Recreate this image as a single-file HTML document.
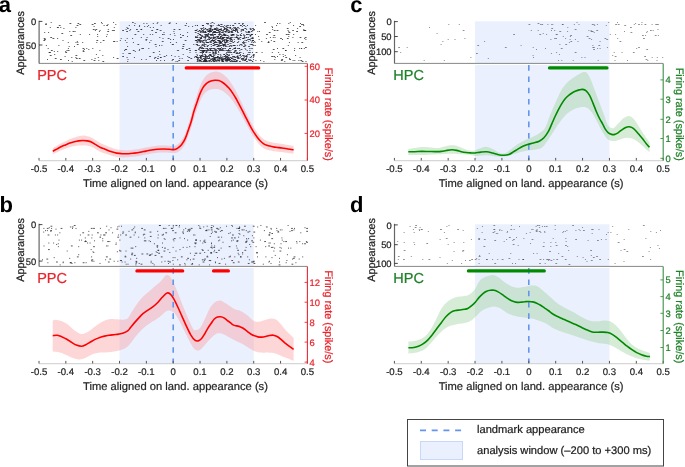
<!DOCTYPE html>
<html><head><meta charset="utf-8"><style>
html,body{margin:0;padding:0;background:#fff;}
svg{display:block;font-family:"Liberation Sans", sans-serif;text-rendering:geometricPrecision;will-change:transform;}
</style></head><body>
<svg width="685" height="467" viewBox="0 0 685 467">
<rect width="685" height="467" fill="#fff"/>
<rect x="119.52" y="21.30" width="134.20" height="42.10" fill="#eaf0fd"/>
<rect x="119.52" y="65.00" width="134.20" height="95.50" fill="#eaf0fd"/>
<path d="M157.3 22.50h1.0M132.3 22.50h1.0M132.5 22.50h1.0M50.7 22.50h1.0M211.5 22.50h1.8M101.0 22.50h1.0M289.8 22.50h1.0M169.5 22.50h1.0M264.1 22.50h1.8M113.1 22.50h1.0M213.7 23.50h1.0M186.0 23.50h1.0M210.4 23.50h1.0M94.0 23.50h1.8M168.6 23.50h1.8M279.4 23.50h1.0M242.0 23.50h1.8M156.7 23.50h1.0M175.9 23.50h1.0M288.3 23.50h1.0M238.3 23.50h1.8M45.6 23.50h1.0M101.7 23.50h1.0M206.0 23.50h1.8M78.2 23.50h1.0M77.5 23.50h1.0M69.5 23.50h1.8M152.8 23.50h1.0M277.0 23.50h1.0M234.3 23.50h1.8M143.4 23.50h1.0M207.5 23.50h1.0M207.8 23.50h1.0M300.0 23.50h1.0M134.6 23.50h1.0M146.4 23.50h1.0M115.3 24.50h1.0M79.4 24.50h1.8M45.1 24.50h1.8M107.5 24.50h1.0M302.9 24.50h1.0M220.5 24.50h1.0M242.1 24.50h1.0M220.7 24.50h1.8M91.7 24.50h1.8M207.5 24.50h1.0M301.1 24.50h1.8M218.2 24.50h1.0M209.7 25.50h1.0M224.2 25.50h1.0M218.1 25.50h1.0M255.1 25.50h1.0M106.2 25.50h1.8M228.2 25.50h1.0M202.1 25.50h1.8M216.7 25.50h1.0M226.4 25.50h1.8M230.0 25.50h1.0M210.2 25.50h1.8M201.9 25.50h1.0M239.9 25.50h1.0M160.6 25.50h1.0M243.2 25.50h1.8M218.7 25.50h1.0M58.8 25.50h1.8M240.1 25.50h1.8M184.7 25.50h1.8M76.6 25.50h1.8M103.6 25.50h1.0M202.4 25.50h1.0M212.6 25.50h1.0M276.1 25.50h1.0M196.8 25.50h1.0M232.4 25.50h1.8M247.0 25.50h1.0M139.1 25.50h1.0M232.5 25.50h1.0M194.9 25.50h1.0M293.1 25.50h1.0M202.8 25.50h1.0M197.0 25.50h1.0M134.1 25.50h1.0M128.8 25.50h1.0M303.2 25.50h1.0M218.9 25.50h1.0M148.1 25.50h1.0M299.2 26.50h1.8M271.5 26.50h1.0M192.1 26.50h1.0M138.9 26.50h1.0M241.9 26.50h1.0M146.9 26.50h1.0M245.3 26.50h1.0M93.6 26.50h1.0M188.2 26.50h1.0M210.4 26.50h1.8M219.9 26.50h1.0M222.9 26.50h1.0M225.5 26.50h1.8M144.2 26.50h1.0M210.8 26.50h1.0M221.0 26.50h1.8M236.9 27.50h1.0M203.2 27.50h1.0M226.5 27.50h1.8M126.5 27.50h1.0M152.9 27.50h1.0M227.6 27.50h1.0M75.4 27.50h1.0M210.5 27.50h1.0M233.2 27.50h1.0M237.8 27.50h1.0M49.8 27.50h1.0M229.3 27.50h1.8M60.3 27.50h1.0M149.8 27.50h1.0M57.5 27.50h1.0M223.3 27.50h1.8M234.2 27.50h1.8M113.8 27.50h1.0M216.3 27.50h1.0M56.9 27.50h1.8M272.0 27.50h1.0M229.7 27.50h1.0M224.3 28.50h1.8M216.6 28.50h1.0M232.3 28.50h1.0M63.4 28.50h1.0M245.4 28.50h1.0M204.9 28.50h1.0M209.8 28.50h1.0M205.1 28.50h1.0M297.1 28.50h1.0M244.8 28.50h1.0M238.6 28.50h1.0M201.7 28.50h1.8M209.5 28.50h1.8M214.9 28.50h1.8M213.9 28.50h1.8M127.0 28.50h1.8M208.6 28.50h1.0M217.4 28.50h1.0M225.5 28.50h1.8M250.4 28.50h1.0M235.2 28.50h1.0M252.1 28.50h1.8M200.5 28.50h1.0M200.7 28.50h1.0M229.5 28.50h1.8M286.8 28.50h1.8M220.7 28.50h1.0M210.3 28.50h1.0M244.4 28.50h1.0M204.8 28.50h1.0M234.2 28.50h1.0M249.6 28.50h1.0M224.0 28.50h1.0M235.6 28.50h1.8M214.2 29.50h1.8M253.6 29.50h1.0M241.8 29.50h1.8M201.0 29.50h1.0M218.5 29.50h1.0M223.5 29.50h1.0M218.6 29.50h1.8M226.0 29.50h1.8M253.6 29.50h1.0M232.8 29.50h1.0M156.6 29.50h1.0M209.7 29.50h1.8M231.1 29.50h1.0M219.0 29.50h1.0M196.7 29.50h1.0M235.0 29.50h1.0M235.6 29.50h1.0M220.3 29.50h1.0M136.0 29.50h1.8M236.6 29.50h1.0M246.1 29.50h1.0M107.8 29.50h1.0M140.9 29.50h1.0M243.0 29.50h1.0M206.5 29.50h1.0M219.8 29.50h1.0M125.6 29.50h1.0M211.8 29.50h1.0M140.4 29.50h1.8M303.3 29.50h1.0M253.3 29.50h1.0M215.0 29.50h1.0M216.6 29.50h1.0M235.6 29.50h1.0M220.1 29.50h1.0M212.0 29.50h1.0M211.8 29.50h1.0M204.4 29.50h1.0M220.9 29.50h1.0M240.8 29.50h1.0M214.0 29.50h1.0M178.7 29.50h1.8M223.6 29.50h1.8M130.1 29.50h1.0M206.4 29.50h1.0M203.2 29.50h1.0M226.5 29.50h1.8M173.5 29.50h1.8M215.4 29.50h1.0M249.9 29.50h1.8M209.4 29.50h1.0M156.5 29.50h1.8M206.9 29.50h1.8M219.5 29.50h1.0M92.8 29.50h1.8M212.8 29.50h1.0M224.3 29.50h1.0M235.5 29.50h1.8M272.2 29.50h1.0M95.4 29.50h1.8M216.2 29.50h1.0M208.4 30.50h1.8M160.5 30.50h1.0M212.1 30.50h1.0M201.7 30.50h1.0M129.3 30.50h1.0M199.4 30.50h1.0M242.3 30.50h1.8M217.3 30.50h1.8M304.7 30.50h1.0M292.6 30.50h1.0M273.8 30.50h1.8M253.4 30.50h1.0M287.6 30.50h1.0M194.7 30.50h1.8M208.9 30.50h1.8M222.2 30.50h1.8M225.9 30.50h1.0M240.8 30.50h1.0M216.9 30.50h1.0M159.7 30.50h1.0M237.1 30.50h1.0M210.2 30.50h1.0M216.0 30.50h1.0M210.7 30.50h1.0M304.4 30.50h1.8M208.8 30.50h1.0M195.4 30.50h1.8M94.9 30.50h1.0M218.0 30.50h1.0M99.6 30.50h1.0M206.7 30.50h1.0M198.8 30.50h1.0M231.7 30.50h1.0M227.8 30.50h1.8M303.2 30.50h1.8M217.5 30.50h1.0M218.3 30.50h1.0M199.3 30.50h1.0M234.5 30.50h1.0M235.1 30.50h1.8M122.2 30.50h1.8M233.1 30.50h1.8M202.1 30.50h1.8M276.6 30.50h1.8M252.0 30.50h1.0M232.8 30.50h1.0M220.6 30.50h1.8M234.0 30.50h1.0M113.1 30.50h1.8M111.9 30.50h1.0M195.4 30.50h1.0M292.5 30.50h1.0M151.3 30.50h1.8M226.0 30.50h1.8M224.8 31.50h1.0M224.9 31.50h1.8M210.8 31.50h1.0M288.3 31.50h1.0M245.4 31.50h1.0M222.5 31.50h1.0M296.2 31.50h1.8M230.4 31.50h1.8M212.9 31.50h1.0M98.9 31.50h1.0M223.7 31.50h1.0M204.3 31.50h1.8M69.3 31.50h1.0M107.3 31.50h1.8M259.0 31.50h1.0M213.9 31.50h1.8M218.6 31.50h1.0M197.6 31.50h1.0M199.6 31.50h1.0M225.2 31.50h1.0M207.2 31.50h1.8M218.6 31.50h1.0M203.1 31.50h1.0M202.4 31.50h1.0M236.9 31.50h1.0M213.9 31.50h1.0M208.1 31.50h1.0M208.6 31.50h1.8M248.0 31.50h1.0M173.4 31.50h1.0M202.5 31.50h1.0M247.8 31.50h1.0M226.7 31.50h1.0M208.1 31.50h1.0M257.3 31.50h1.0M251.2 31.50h1.0M72.6 31.50h1.8M235.0 31.50h1.0M205.0 31.50h1.0M208.6 31.50h1.0M209.9 31.50h1.8M137.5 31.50h1.8M251.3 31.50h1.0M74.6 31.50h1.0M126.2 31.50h1.8M236.9 31.50h1.0M219.6 31.50h1.0M219.5 31.50h1.0M209.8 31.50h1.8M240.7 31.50h1.0M214.9 31.50h1.0M197.7 31.50h1.0M200.2 31.50h1.8M231.1 31.50h1.8M248.4 31.50h1.8M228.4 31.50h1.8M227.9 32.50h1.0M204.7 32.50h1.0M163.5 32.50h1.0M212.3 32.50h1.8M227.7 32.50h1.8M216.6 32.50h1.0M230.6 32.50h1.0M245.8 32.50h1.0M247.3 32.50h1.8M205.5 32.50h1.0M225.4 32.50h1.0M187.1 32.50h1.0M213.6 32.50h1.8M222.8 32.50h1.0M218.7 32.50h1.8M288.5 32.50h1.8M202.2 32.50h1.8M212.7 32.50h1.0M209.3 32.50h1.0M237.0 32.50h1.8M231.1 32.50h1.8M218.3 32.50h1.0M248.4 32.50h1.8M155.1 32.50h1.8M232.3 32.50h1.0M213.9 32.50h1.0M216.5 32.50h1.8M221.9 32.50h1.0M215.0 32.50h1.0M204.1 32.50h1.0M228.9 32.50h1.0M44.2 32.50h1.0M214.2 32.50h1.8M216.0 32.50h1.0M268.8 32.50h1.8M194.8 32.50h1.8M204.6 32.50h1.8M199.9 32.50h1.8M221.0 32.50h1.8M48.1 32.50h1.0M219.4 33.50h1.0M173.8 33.50h1.0M61.4 33.50h1.8M241.1 33.50h1.0M212.3 33.50h1.0M219.3 33.50h1.0M208.1 33.50h1.0M197.4 33.50h1.8M223.5 33.50h1.0M207.7 33.50h1.0M225.3 34.50h1.0M162.3 34.50h1.0M209.8 34.50h1.0M230.7 34.50h1.0M152.2 34.50h1.0M251.0 34.50h1.8M255.0 34.50h1.0M207.5 34.50h1.0M293.2 34.50h1.0M218.5 34.50h1.0M198.8 34.50h1.8M285.8 34.50h1.8M97.1 34.50h1.0M247.0 34.50h1.8M231.7 34.50h1.8M208.2 34.50h1.0M180.0 34.50h1.0M248.7 34.50h1.0M236.3 34.50h1.0M213.9 34.50h1.8M149.8 34.50h1.0M162.3 34.50h1.0M223.5 34.50h1.8M206.0 34.50h1.0M213.3 34.50h1.8M207.2 34.50h1.0M219.8 34.50h1.0M211.5 34.50h1.0M243.3 34.50h1.0M251.9 34.50h1.0M205.4 34.50h1.0M143.2 34.50h1.0M134.5 34.50h1.8M219.4 34.50h1.0M287.7 34.50h1.8M232.8 34.50h1.8M232.3 34.50h1.0M266.1 34.50h1.8M211.2 34.50h1.8M211.2 34.50h1.0M89.1 34.50h1.0M239.9 34.50h1.0M204.3 34.50h1.8M106.7 34.50h1.0M210.6 34.50h1.0M79.8 34.50h1.0M233.0 34.50h1.0M218.3 34.50h1.8M224.1 34.50h1.0M209.9 34.50h1.0M214.9 34.50h1.0M250.6 34.50h1.0M246.2 34.50h1.0M220.7 34.50h1.0M251.1 34.50h1.0M169.8 34.50h1.0M199.3 34.50h1.8M232.1 34.50h1.0M246.2 34.50h1.0M222.8 34.50h1.8M206.0 34.50h1.0M209.6 34.50h1.0M163.7 34.50h1.0M243.4 35.50h1.0M218.7 35.50h1.0M230.8 35.50h1.8M199.9 35.50h1.0M240.0 35.50h1.0M174.4 35.50h1.0M273.4 35.50h1.8M206.8 35.50h1.0M241.1 35.50h1.0M224.0 35.50h1.8M224.3 35.50h1.0M250.0 35.50h1.0M231.4 35.50h1.0M182.2 35.50h1.8M206.9 35.50h1.8M206.4 35.50h1.0M222.8 35.50h1.0M224.7 35.50h1.0M221.3 35.50h1.0M224.9 35.50h1.0M204.8 35.50h1.8M210.7 35.50h1.0M70.3 35.50h1.8M210.4 35.50h1.0M201.0 35.50h1.8M244.3 35.50h1.0M222.2 35.50h1.0M226.2 35.50h1.8M230.7 35.50h1.8M197.4 35.50h1.0M236.6 35.50h1.0M227.6 35.50h1.0M249.7 35.50h1.8M233.3 35.50h1.0M237.4 35.50h1.8M240.3 35.50h1.0M212.1 35.50h1.0M212.9 35.50h1.0M187.0 36.50h1.0M205.0 36.50h1.0M249.8 36.50h1.0M201.9 36.50h1.8M213.3 36.50h1.0M220.0 36.50h1.8M206.3 36.50h1.8M221.2 36.50h1.0M288.3 36.50h1.0M97.2 36.50h1.0M205.3 36.50h1.0M196.5 36.50h1.0M204.3 36.50h1.0M258.1 36.50h1.0M236.2 36.50h1.0M217.5 36.50h1.0M216.9 36.50h1.8M215.7 36.50h1.0M106.1 36.50h1.0M220.0 36.50h1.0M201.3 36.50h1.0M228.3 36.50h1.0M243.9 36.50h1.0M217.3 36.50h1.0M195.1 36.50h1.0M217.8 36.50h1.0M207.7 36.50h1.8M209.0 37.50h1.0M299.6 37.50h1.8M159.3 37.50h1.0M200.9 37.50h1.0M235.9 37.50h1.0M235.4 37.50h1.0M272.8 37.50h1.0M235.7 37.50h1.8M269.9 37.50h1.0M223.4 37.50h1.0M222.0 37.50h1.0M304.8 37.50h1.0M223.7 37.50h1.8M236.5 37.50h1.8M212.9 37.50h1.0M219.7 37.50h1.0M305.6 37.50h1.0M197.2 37.50h1.0M195.3 37.50h1.8M222.8 37.50h1.8M214.7 37.50h1.0M205.1 37.50h1.0M229.6 37.50h1.8M246.4 37.50h1.0M215.3 37.50h1.0M214.4 37.50h1.0M203.3 37.50h1.8M50.3 37.50h1.8M274.5 37.50h1.0M140.8 37.50h1.0M233.6 37.50h1.0M231.0 37.50h1.8M216.9 37.50h1.8M226.2 37.50h1.0M292.4 37.50h1.0M195.0 37.50h1.8M208.9 37.50h1.8M213.1 37.50h1.0M239.4 37.50h1.8M236.3 37.50h1.0M180.0 37.50h1.8M247.9 37.50h1.0M243.7 37.50h1.8M210.8 37.50h1.8M226.2 37.50h1.8M199.2 37.50h1.0M251.7 37.50h1.8M219.7 37.50h1.8M200.2 37.50h1.8M222.4 37.50h1.0M146.6 37.50h1.0M213.9 37.50h1.0M197.2 37.50h1.0M226.8 37.50h1.0M205.2 37.50h1.0M246.0 37.50h1.0M228.0 37.50h1.0M208.2 37.50h1.0M230.2 38.50h1.0M200.3 38.50h1.0M243.1 38.50h1.0M52.5 38.50h1.8M213.7 38.50h1.0M221.9 38.50h1.0M219.4 38.50h1.0M242.0 38.50h1.8M57.1 38.50h1.0M237.4 38.50h1.8M251.6 38.50h1.0M215.6 38.50h1.0M265.9 38.50h1.0M218.2 38.50h1.0M222.6 38.50h1.0M304.1 38.50h1.0M226.4 38.50h1.8M250.5 38.50h1.0M222.9 38.50h1.0M162.5 38.50h1.0M120.7 38.50h1.0M199.8 38.50h1.0M229.3 38.50h1.0M209.8 38.50h1.0M286.9 38.50h1.8M252.6 38.50h1.0M43.7 38.50h1.8M228.6 38.50h1.0M217.9 38.50h1.8M212.6 38.50h1.8M222.3 38.50h1.0M217.3 38.50h1.8M212.9 38.50h1.0M204.8 38.50h1.0M126.7 38.50h1.0M242.8 38.50h1.0M238.7 38.50h1.0M229.9 38.50h1.8M218.2 38.50h1.8M237.6 38.50h1.0M132.1 38.50h1.0M208.4 38.50h1.0M167.7 38.50h1.8M227.6 38.50h1.0M209.9 38.50h1.8M244.3 38.50h1.0M200.3 38.50h1.8M218.4 38.50h1.8M200.6 38.50h1.0M219.4 38.50h1.8M221.1 38.50h1.8M280.1 38.50h1.8M251.5 38.50h1.8M233.8 39.50h1.0M173.0 39.50h1.0M209.1 39.50h1.0M145.5 39.50h1.8M224.3 39.50h1.0M230.8 39.50h1.0M223.6 39.50h1.0M230.6 39.50h1.0M225.3 39.50h1.8M238.3 39.50h1.0M247.4 39.50h1.0M204.6 39.50h1.0M248.6 39.50h1.8M198.1 39.50h1.0M305.4 39.50h1.0M214.7 39.50h1.0M212.1 39.50h1.0M229.6 39.50h1.0M237.6 39.50h1.0M170.1 39.50h1.0M208.9 39.50h1.0M206.8 39.50h1.8M197.2 39.50h1.0M249.4 39.50h1.0M230.7 39.50h1.8M215.5 39.50h1.0M220.8 39.50h1.0M239.8 39.50h1.0M44.1 39.50h1.8M282.0 39.50h1.0M208.6 39.50h1.0M222.2 39.50h1.0M258.7 39.50h1.0M247.8 39.50h1.0M198.9 39.50h1.0M197.6 39.50h1.0M199.5 39.50h1.0M124.9 40.50h1.0M184.7 40.50h1.8M252.1 40.50h1.8M96.4 40.50h1.8M230.2 40.50h1.0M226.4 40.50h1.0M213.2 40.50h1.0M224.2 40.50h1.0M196.0 40.50h1.0M202.3 40.50h1.8M222.2 40.50h1.0M214.1 40.50h1.0M219.6 40.50h1.0M211.6 40.50h1.8M145.7 40.50h1.0M212.8 40.50h1.0M223.7 40.50h1.0M197.4 40.50h1.0M195.4 40.50h1.8M222.6 40.50h1.8M205.2 40.50h1.8M225.9 40.50h1.0M244.5 40.50h1.0M252.2 40.50h1.8M217.9 40.50h1.0M199.9 40.50h1.0M200.9 40.50h1.0M252.3 40.50h1.0M246.4 40.50h1.0M213.4 40.50h1.8M150.5 40.50h1.0M231.8 40.50h1.0M250.3 40.50h1.0M204.2 40.50h1.0M218.0 40.50h1.0M227.0 40.50h1.0M217.2 40.50h1.0M198.2 40.50h1.8M245.9 40.50h1.0M210.7 40.50h1.0M270.8 40.50h1.0M228.2 40.50h1.0M119.8 40.50h1.0M217.6 40.50h1.8M218.6 40.50h1.0M194.9 40.50h1.8M198.6 40.50h1.8M43.4 40.50h1.8M102.7 40.50h1.8M225.7 40.50h1.8M227.0 40.50h1.0M218.8 40.50h1.0M227.3 40.50h1.0M62.5 40.50h1.0M211.0 40.50h1.8M203.1 40.50h1.0M200.6 41.50h1.0M201.6 41.50h1.8M196.6 41.50h1.0M251.6 41.50h1.0M229.6 41.50h1.0M222.2 41.50h1.0M261.3 41.50h1.0M116.6 41.50h1.0M211.3 41.50h1.0M218.5 41.50h1.8M197.5 41.50h1.0M221.9 41.50h1.0M113.0 41.50h1.8M238.2 41.50h1.0M224.0 41.50h1.0M161.8 41.50h1.8M199.6 41.50h1.0M230.6 41.50h1.8M225.9 41.50h1.0M205.5 41.50h1.0M225.8 41.50h1.0M199.5 41.50h1.0M231.4 41.50h1.0M227.1 41.50h1.0M268.2 41.50h1.0M254.2 41.50h1.0M214.5 41.50h1.8M213.0 41.50h1.0M234.1 41.50h1.0M210.1 41.50h1.0M209.5 41.50h1.0M219.7 41.50h1.8M219.4 41.50h1.8M273.4 41.50h1.8M243.1 41.50h1.0M76.8 41.50h1.0M248.2 41.50h1.0M114.3 41.50h1.0M199.7 41.50h1.0M215.6 42.50h1.8M100.3 42.50h1.0M224.9 42.50h1.0M77.3 42.50h1.0M75.5 42.50h1.0M227.4 42.50h1.0M254.6 42.50h1.0M288.9 42.50h1.0M170.1 42.50h1.0M203.1 42.50h1.0M175.9 42.50h1.0M297.6 42.50h1.0M200.2 42.50h1.0M242.1 42.50h1.0M206.1 42.50h1.0M245.4 42.50h1.0M220.2 42.50h1.0M204.3 42.50h1.0M214.3 42.50h1.8M206.8 42.50h1.8M218.4 42.50h1.0M202.2 42.50h1.0M216.4 42.50h1.0M67.8 42.50h1.0M126.4 42.50h1.0M243.8 42.50h1.0M214.5 42.50h1.0M207.7 42.50h1.8M268.2 42.50h1.0M224.5 42.50h1.8M196.5 42.50h1.8M224.3 42.50h1.0M219.2 42.50h1.0M219.9 42.50h1.8M301.4 42.50h1.8M225.3 42.50h1.8M242.7 42.50h1.8M96.3 42.50h1.0M267.6 42.50h1.8M232.4 42.50h1.8M206.5 42.50h1.0M221.0 42.50h1.0M206.4 42.50h1.0M253.0 42.50h1.0M219.9 42.50h1.0M82.2 42.50h1.0M213.9 42.50h1.0M214.2 42.50h1.0M207.2 42.50h1.0M207.3 42.50h1.0M251.3 42.50h1.0M206.4 42.50h1.8M132.9 42.50h1.0M213.9 42.50h1.0M149.2 42.50h1.0M199.5 42.50h1.0M237.5 42.50h1.0M210.0 42.50h1.8M236.9 42.50h1.0M224.7 43.50h1.0M221.7 43.50h1.0M229.4 43.50h1.0M230.4 43.50h1.0M218.8 43.50h1.8M212.9 43.50h1.0M242.8 43.50h1.8M212.7 43.50h1.8M219.9 43.50h1.8M203.7 43.50h1.0M154.7 44.50h1.8M244.4 44.50h1.0M211.0 44.50h1.0M182.8 44.50h1.8M222.4 44.50h1.0M240.5 44.50h1.8M227.9 44.50h1.0M226.8 44.50h1.0M205.5 44.50h1.0M249.7 44.50h1.0M172.6 44.50h1.0M196.6 44.50h1.0M239.7 44.50h1.0M193.3 44.50h1.0M201.8 44.50h1.8M224.0 44.50h1.8M215.2 44.50h1.8M203.8 44.50h1.8M195.7 44.50h1.8M224.3 44.50h1.0M216.5 44.50h1.8M250.6 44.50h1.8M196.7 44.50h1.0M213.9 44.50h1.8M222.5 44.50h1.8M209.6 44.50h1.0M218.6 44.50h1.0M76.8 44.50h1.8M171.8 44.50h1.8M251.5 44.50h1.8M216.5 44.50h1.0M223.2 44.50h1.0M137.4 44.50h1.8M220.6 45.50h1.0M223.1 45.50h1.8M232.7 45.50h1.0M45.9 45.50h1.0M219.7 45.50h1.8M287.8 45.50h1.0M198.8 45.50h1.0M252.5 45.50h1.0M218.2 45.50h1.0M217.7 45.50h1.8M244.4 45.50h1.8M241.5 45.50h1.0M203.3 45.50h1.0M214.3 45.50h1.0M234.2 45.50h1.0M212.6 45.50h1.8M208.0 45.50h1.0M221.5 45.50h1.0M254.8 45.50h1.0M233.1 45.50h1.8M159.0 45.50h1.0M222.9 45.50h1.0M253.4 45.50h1.0M236.9 45.50h1.0M206.8 45.50h1.0M233.6 45.50h1.0M219.6 45.50h1.0M202.2 45.50h1.0M231.3 45.50h1.0M239.1 45.50h1.0M196.9 45.50h1.8M203.7 45.50h1.0M58.4 45.50h1.0M222.7 45.50h1.0M229.5 45.50h1.8M224.5 45.50h1.8M201.4 45.50h1.0M161.4 45.50h1.0M212.8 45.50h1.0M234.6 45.50h1.0M226.5 46.50h1.0M207.1 46.50h1.0M231.2 46.50h1.0M210.8 46.50h1.0M74.0 46.50h1.0M244.4 46.50h1.0M224.9 46.50h1.8M216.4 46.50h1.8M204.5 46.50h1.0M248.1 46.50h1.8M217.1 46.50h1.8M206.7 46.50h1.0M127.1 46.50h1.0M155.6 46.50h1.0M68.7 46.50h1.0M243.0 46.50h1.8M219.3 46.50h1.0M228.5 46.50h1.8M182.4 46.50h1.8M203.9 46.50h1.0M223.2 46.50h1.0M200.6 46.50h1.0M201.3 47.50h1.8M221.0 47.50h1.0M234.8 47.50h1.0M305.0 47.50h1.8M199.7 47.50h1.0M199.8 47.50h1.0M199.3 47.50h1.8M212.5 48.50h1.8M221.8 48.50h1.0M220.0 48.50h1.0M205.9 48.50h1.0M210.4 48.50h1.8M229.0 48.50h1.0M206.7 48.50h1.0M282.4 48.50h1.8M224.3 48.50h1.8M299.1 48.50h1.0M239.0 48.50h1.0M198.6 48.50h1.0M238.9 48.50h1.0M222.3 48.50h1.0M233.3 48.50h1.0M219.8 48.50h1.0M201.4 48.50h1.0M142.9 48.50h1.0M234.1 48.50h1.0M211.3 48.50h1.0M202.2 48.50h1.8M204.6 48.50h1.0M209.0 48.50h1.8M216.9 48.50h1.8M202.9 48.50h1.0M294.2 48.50h1.0M219.5 48.50h1.0M251.8 48.50h1.0M47.7 48.50h1.0M229.2 48.50h1.8M207.1 48.50h1.0M200.9 48.50h1.0M301.2 48.50h1.0M229.7 48.50h1.0M277.0 48.50h1.0M234.3 48.50h1.0M223.1 48.50h1.0M188.5 48.50h1.8M219.4 48.50h1.0M82.5 48.50h1.8M218.0 48.50h1.0M92.3 48.50h1.0M181.9 48.50h1.8M148.3 48.50h1.0M300.9 48.50h1.0M141.4 48.50h1.8M244.6 48.50h1.0M235.1 48.50h1.0M213.6 48.50h1.8M249.2 48.50h1.0M303.8 48.50h1.0M237.1 48.50h1.8M86.3 48.50h1.0M234.2 48.50h1.8M199.4 48.50h1.0M202.7 48.50h1.0M218.3 48.50h1.0M250.6 48.50h1.0M67.9 48.50h1.0M219.9 49.50h1.8M219.3 49.50h1.0M83.9 49.50h1.0M218.4 49.50h1.0M125.3 49.50h1.8M124.9 49.50h1.0M232.3 49.50h1.0M214.2 49.50h1.0M240.6 49.50h1.8M228.0 49.50h1.0M215.0 49.50h1.8M186.0 49.50h1.8M198.2 49.50h1.0M88.3 49.50h1.0M209.8 49.50h1.0M245.3 49.50h1.0M272.8 49.50h1.8M210.2 49.50h1.0M208.2 49.50h1.0M139.1 49.50h1.0M207.1 49.50h1.0M221.5 49.50h1.8M198.6 49.50h1.0M207.3 50.50h1.0M227.4 50.50h1.8M285.0 50.50h1.8M194.8 50.50h1.0M67.6 50.50h1.0M178.1 50.50h1.0M203.7 50.50h1.8M215.3 50.50h1.0M294.0 50.50h1.0M195.3 50.50h1.0M189.6 50.50h1.0M124.1 50.50h1.0M221.5 50.50h1.0M132.8 50.50h1.8M206.6 50.50h1.0M218.9 50.50h1.8M215.8 50.50h1.0M246.7 50.50h1.0M219.2 50.50h1.0M66.5 50.50h1.0M207.8 50.50h1.8M230.4 50.50h1.0M201.5 50.50h1.0M221.2 50.50h1.0M200.1 50.50h1.0M249.4 50.50h1.0M225.4 50.50h1.8M216.8 50.50h1.0M50.9 50.50h1.8M199.5 50.50h1.0M204.2 50.50h1.0M209.6 50.50h1.8M213.5 50.50h1.0M203.8 50.50h1.0M215.1 50.50h1.0M204.3 50.50h1.0M99.4 50.50h1.0M211.8 50.50h1.0M210.8 50.50h1.0M176.9 50.50h1.0M235.6 50.50h1.0M222.2 50.50h1.0M195.3 50.50h1.8M82.8 50.50h1.0M220.3 50.50h1.0M227.7 50.50h1.0M209.6 50.50h1.8M206.4 50.50h1.0M213.5 50.50h1.0M205.7 50.50h1.0M285.0 50.50h1.0M202.6 50.50h1.8M138.8 50.50h1.0M204.4 50.50h1.0M202.5 50.50h1.8M239.3 50.50h1.0M189.6 50.50h1.0M234.4 50.50h1.8M227.4 50.50h1.0M211.3 50.50h1.8M228.3 50.50h1.8M235.2 50.50h1.0M68.5 50.50h1.0M222.9 50.50h1.8M201.1 50.50h1.8M234.1 51.50h1.0M214.9 51.50h1.8M227.5 51.50h1.0M65.2 51.50h1.0M53.8 51.50h1.0M202.5 51.50h1.8M202.8 51.50h1.8M212.4 51.50h1.0M205.7 51.50h1.8M201.7 51.50h1.8M218.0 51.50h1.0M57.2 51.50h1.0M134.8 51.50h1.0M235.3 51.50h1.0M158.9 51.50h1.0M82.7 51.50h1.8M229.4 51.50h1.0M212.7 52.50h1.0M205.6 52.50h1.0M247.9 52.50h1.0M218.2 52.50h1.0M48.6 52.50h1.8M255.6 52.50h1.8M202.3 52.50h1.0M203.0 52.50h1.0M214.7 52.50h1.0M232.8 52.50h1.0M278.1 52.50h1.0M49.0 52.50h1.8M205.5 52.50h1.8M252.0 52.50h1.0M215.0 52.50h1.8M208.7 52.50h1.0M229.6 52.50h1.8M200.8 52.50h1.0M152.8 52.50h1.8M195.5 52.50h1.0M228.0 52.50h1.8M238.9 52.50h1.8M226.6 52.50h1.0M213.1 52.50h1.0M202.2 52.50h1.8M236.9 52.50h1.0M65.3 52.50h1.8M271.8 52.50h1.0M261.6 52.50h1.0M233.5 52.50h1.0M231.0 52.50h1.0M234.0 52.50h1.0M235.7 52.50h1.0M209.7 52.50h1.0M249.0 52.50h1.8M212.5 52.50h1.8M189.5 52.50h1.0M226.4 52.50h1.0M199.7 52.50h1.8M240.4 52.50h1.0M122.6 53.50h1.0M128.3 53.50h1.0M215.8 53.50h1.0M225.7 53.50h1.0M242.9 53.50h1.0M236.3 53.50h1.0M212.4 53.50h1.8M129.1 53.50h1.8M236.3 53.50h1.8M235.7 53.50h1.0M201.9 53.50h1.0M238.2 53.50h1.8M214.5 53.50h1.8M223.2 54.50h1.8M196.5 54.50h1.0M209.9 54.50h1.0M279.4 54.50h1.0M231.4 54.50h1.0M252.9 54.50h1.8M209.7 54.50h1.8M249.1 54.50h1.0M209.1 54.50h1.0M95.9 54.50h1.0M204.4 54.50h1.0M282.6 54.50h1.0M204.7 54.50h1.0M182.7 54.50h1.0M202.3 54.50h1.0M214.5 54.50h1.0M220.2 54.50h1.0M247.6 54.50h1.0M159.4 54.50h1.0M54.2 54.50h1.0M226.9 54.50h1.0M212.8 54.50h1.0M228.7 54.50h1.0M226.3 54.50h1.8M217.5 54.50h1.8M223.8 54.50h1.0M223.8 54.50h1.0M247.2 54.50h1.0M240.0 54.50h1.0M245.7 55.50h1.8M202.3 55.50h1.0M214.2 55.50h1.0M225.3 55.50h1.0M252.7 55.50h1.0M225.1 55.50h1.0M252.7 55.50h1.8M242.1 55.50h1.0M213.2 55.50h1.0M205.0 55.50h1.0M102.3 55.50h1.0M220.4 55.50h1.0M210.6 55.50h1.0M237.4 55.50h1.0M209.2 55.50h1.8M210.7 55.50h1.0M205.5 55.50h1.0M49.8 55.50h1.8M209.8 55.50h1.0M75.5 55.50h1.8M295.1 55.50h1.0M228.2 55.50h1.8M200.4 55.50h1.8M284.8 55.50h1.0M171.1 55.50h1.0M199.2 55.50h1.0M242.9 55.50h1.8M200.9 55.50h1.8M208.1 55.50h1.0M239.2 55.50h1.8M166.1 55.50h1.0M227.6 55.50h1.0M196.9 55.50h1.0M236.6 56.50h1.8M217.1 56.50h1.0M194.7 56.50h1.8M236.7 56.50h1.0M199.9 56.50h1.0M213.2 56.50h1.0M149.7 56.50h1.0M224.4 56.50h1.0M200.2 56.50h1.0M206.1 56.50h1.8M163.7 56.50h1.8M232.0 56.50h1.0M220.2 56.50h1.0M223.8 56.50h1.8M211.1 56.50h1.8M233.2 56.50h1.0M212.0 56.50h1.0M282.9 56.50h1.0M204.0 56.50h1.8M244.4 56.50h1.0M217.0 56.50h1.8M243.4 56.50h1.0M200.1 56.50h1.0M212.4 56.50h1.0M202.6 56.50h1.0M240.8 56.50h1.0M207.8 56.50h1.0M212.6 56.50h1.0M122.2 56.50h1.8M245.0 56.50h1.8M205.0 56.50h1.0M245.9 56.50h1.8M253.3 56.50h1.0M233.5 56.50h1.0M196.3 56.50h1.0M233.5 56.50h1.8M149.4 56.50h1.0M201.4 56.50h1.0M225.4 56.50h1.8M271.2 56.50h1.8M178.4 56.50h1.0M251.0 56.50h1.0M226.4 56.50h1.8M64.6 56.50h1.0M201.6 56.50h1.0M187.2 56.50h1.0M237.2 56.50h1.0M157.7 56.50h1.0M174.6 56.50h1.0M277.0 56.50h1.0M195.5 56.50h1.0M208.7 56.50h1.0M203.1 56.50h1.0M210.9 56.50h1.0M273.3 56.50h1.8M205.7 56.50h1.0M222.4 56.50h1.0M227.2 56.50h1.0M207.0 56.50h1.0M200.0 57.50h1.8M206.7 57.50h1.0M225.9 57.50h1.0M196.0 57.50h1.0M97.8 57.50h1.0M159.9 57.50h1.8M249.7 57.50h1.0M243.8 57.50h1.0M226.7 57.50h1.8M199.2 57.50h1.0M209.0 57.50h1.0M196.8 57.50h1.8M220.5 57.50h1.0M214.4 57.50h1.0M197.1 57.50h1.0M199.9 57.50h1.0M214.8 57.50h1.8M219.3 57.50h1.0M213.9 57.50h1.0M215.5 57.50h1.0M227.7 57.50h1.0M219.5 57.50h1.0M228.2 57.50h1.0M154.5 57.50h1.8M218.1 57.50h1.8M229.9 57.50h1.8M212.9 57.50h1.0M113.1 57.50h1.0M239.7 57.50h1.0M224.9 57.50h1.8M200.3 57.50h1.0M215.3 57.50h1.8M71.3 57.50h1.0M234.3 57.50h1.0M299.6 57.50h1.0M237.9 57.50h1.0M237.8 57.50h1.0M285.3 57.50h1.8M237.0 57.50h1.0M204.6 57.50h1.8M234.8 57.50h1.8M229.5 57.50h1.0M250.4 57.50h1.0M133.9 57.50h1.0M188.3 57.50h1.8M205.3 57.50h1.0M221.0 57.50h1.0M232.5 57.50h1.0M75.4 57.50h1.0M216.7 57.50h1.8M194.2 57.50h1.0M216.9 57.50h1.0M126.6 57.50h1.0M252.9 57.50h1.0M274.8 57.50h1.0M196.7 57.50h1.8M160.2 57.50h1.0M246.3 57.50h1.0M222.3 57.50h1.0M197.4 58.50h1.0M212.6 58.50h1.0M197.7 58.50h1.0M78.8 58.50h1.8M94.6 58.50h1.0M203.0 58.50h1.0M240.8 58.50h1.8M208.1 58.50h1.0M212.0 58.50h1.8M245.9 58.50h1.0M226.6 58.50h1.8M75.9 58.50h1.8M54.8 58.50h1.8M179.3 58.50h1.0M200.0 58.50h1.8M157.0 58.50h1.8M202.8 58.50h1.0M208.3 58.50h1.8M214.1 58.50h1.0M227.1 58.50h1.8M225.5 58.50h1.0M219.3 58.50h1.0M237.4 58.50h1.8M223.4 58.50h1.0M243.3 58.50h1.0M289.1 58.50h1.0M245.7 58.50h1.0M242.6 58.50h1.0M204.4 58.50h1.0M229.0 58.50h1.0M210.6 58.50h1.0M213.9 58.50h1.8M238.6 58.50h1.0M231.6 58.50h1.8M230.8 58.50h1.0M219.9 58.50h1.0M220.8 58.50h1.0M218.5 58.50h1.8M218.5 58.50h1.0M224.6 58.50h1.0M207.5 58.50h1.0M224.2 58.50h1.8M223.5 58.50h1.0M208.4 58.50h1.0M116.7 58.50h1.8M204.2 58.50h1.8M231.0 58.50h1.0M190.4 58.50h1.8M216.6 58.50h1.0M242.1 58.50h1.8M181.7 58.50h1.0M206.1 58.50h1.8M154.2 58.50h1.0M221.4 58.50h1.8M214.4 58.50h1.0M237.3 58.50h1.0M228.9 59.50h1.8M214.1 59.50h1.0M274.3 59.50h1.0M202.1 59.50h1.0M243.0 59.50h1.0M244.7 59.50h1.0M205.3 59.50h1.0M244.7 59.50h1.0M225.5 59.50h1.8M204.3 59.50h1.8M127.5 59.50h1.0M222.8 59.50h1.8M227.6 59.50h1.8M196.8 59.50h1.0M218.8 59.50h1.0M216.7 59.50h1.0M212.7 59.50h1.8M225.3 59.50h1.0M213.8 59.50h1.0M227.4 59.50h1.0M241.1 59.50h1.8M221.8 59.50h1.0M226.6 59.50h1.0M289.2 59.50h1.8M234.5 59.50h1.0M245.2 59.50h1.8M211.9 59.50h1.0M232.7 59.50h1.0M248.2 59.50h1.0M253.1 59.50h1.0M226.5 59.50h1.0M225.7 59.50h1.8M233.5 59.50h1.8M223.3 59.50h1.0M214.6 59.50h1.0M205.4 59.50h1.0M197.4 59.50h1.0M214.8 59.50h1.0M249.6 59.50h1.0M229.2 59.50h1.8M60.0 59.50h1.8M220.6 59.50h1.0M217.6 59.50h1.0M145.7 59.50h1.0M213.4 59.50h1.0M47.0 59.50h1.0M199.3 59.50h1.0M228.2 59.50h1.0M221.3 59.50h1.0M204.5 59.50h1.0M227.4 59.50h1.8M201.3 59.50h1.0M220.9 59.50h1.8M214.1 59.50h1.0M229.8 59.50h1.0M91.4 59.50h1.0M221.8 59.50h1.0M197.5 59.50h1.0M204.3 59.50h1.0M210.2 59.50h1.8M141.1 59.50h1.0M235.1 59.50h1.0M281.3 59.50h1.8M172.2 59.50h1.8M221.8 60.50h1.8M228.0 60.50h1.8M205.5 60.50h1.8M218.5 60.50h1.0M178.3 60.50h1.8M224.8 60.50h1.0M213.2 60.50h1.0M200.2 60.50h1.0M208.3 60.50h1.8M294.3 60.50h1.0M230.8 60.50h1.8M225.2 60.50h1.0M199.5 60.50h1.0M212.5 60.50h1.8M237.1 60.50h1.0M218.6 60.50h1.0M300.4 60.50h1.8M260.1 60.50h1.0M203.4 60.50h1.8M233.6 60.50h1.0M198.5 60.50h1.0M218.1 60.50h1.0M226.8 60.50h1.0M229.2 60.50h1.0M206.1 60.50h1.0M83.4 60.50h1.8M187.2 60.50h1.8M242.3 60.50h1.0M209.4 60.50h1.8M160.2 60.50h1.0M227.1 60.50h1.0M205.8 60.50h1.0M205.0 60.50h1.8M204.1 60.50h1.0M220.8 60.50h1.0M280.9 60.50h1.8M199.3 60.50h1.0M197.1 60.50h1.0M171.7 60.50h1.0M248.7 60.50h1.8M93.6 60.50h1.8M199.0 60.50h1.8M298.4 60.50h1.0M216.2 60.50h1.0M164.0 60.50h1.0M255.4 60.50h1.0M214.6 60.50h1.0M219.1 60.50h1.0M225.8 60.50h1.0M235.7 60.50h1.0M226.6 60.50h1.0M243.5 60.50h1.0M250.3 60.50h1.8M236.1 60.50h1.0M244.2 60.50h1.8M204.2 60.50h1.0M203.7 60.50h1.8M225.9 60.50h1.0M218.4 60.50h1.0M222.1 60.50h1.0M68.0 60.50h1.0M215.0 60.50h1.0M98.3 60.50h1.0M244.5 60.50h1.0M292.6 60.50h1.0M212.2 60.50h1.0M216.3 60.50h1.8M156.0 60.50h1.0M199.2 60.50h1.0M200.3 60.50h1.0M199.5 60.50h1.0M198.7 60.50h1.0M221.7 60.50h1.0M233.3 61.50h1.0M201.7 61.50h1.0M263.4 61.50h1.0M229.8 61.50h1.8M204.5 61.50h1.0M234.9 61.50h1.8M225.6 61.50h1.0M205.4 61.50h1.8M175.5 61.50h1.0M203.0 61.50h1.0M252.3 61.50h1.0M221.9 61.50h1.8M204.6 61.50h1.0M206.9 61.50h1.0M231.6 61.50h1.0M246.0 61.50h1.8M233.7 61.50h1.0M213.7 61.50h1.0M205.0 61.50h1.0M305.5 61.50h1.0M127.2 61.50h1.0M213.0 61.50h1.8M215.4 61.50h1.0M208.3 61.50h1.8M226.7 61.50h1.0M229.8 61.50h1.0M223.1 61.50h1.0M239.0 61.50h1.8M231.8 61.50h1.8M301.7 61.50h1.8M102.4 61.50h1.8M203.4 61.50h1.0M204.9 61.50h1.0M201.2 61.50h1.0M284.3 61.50h1.0M198.8 61.50h1.0M210.5 61.50h1.8M71.7 61.50h1.0M233.9 61.50h1.8M200.2 61.50h1.0M222.5 61.50h1.0M204.3 61.50h1.0M216.4 61.50h1.0M213.9 61.50h1.0M196.7 61.50h1.8M221.4 61.50h1.8M177.2 61.50h1.0M218.7 61.50h1.0M235.8 61.50h1.8M252.0 61.50h1.0M206.1 61.50h1.0M203.2 61.50h1.0" stroke="#202028" stroke-width="0.75" fill="none"/>
<path d="M52.80,148.06 L53.51,147.66 L54.53,147.08 L55.69,146.42 L56.80,145.78 L57.85,145.16 L58.92,144.52 L60.01,143.88 L61.10,143.28 L62.19,142.72 L63.29,142.20 L64.40,141.68 L65.50,141.17 L66.60,140.63 L67.70,140.09 L68.80,139.56 L69.90,139.07 L71.00,138.63 L72.11,138.22 L73.21,137.84 L74.30,137.48 L75.38,137.14 L76.45,136.83 L77.52,136.55 L78.60,136.29 L79.69,136.06 L80.79,135.84 L81.90,135.68 L83.00,135.60 L84.10,135.62 L85.20,135.73 L86.30,135.90 L87.40,136.13 L88.50,136.41 L89.60,136.76 L90.70,137.17 L91.80,137.66 L92.90,138.26 L94.01,138.95 L95.11,139.68 L96.20,140.39 L97.28,141.09 L98.34,141.81 L99.41,142.50 L100.50,143.12 L101.58,143.63 L102.66,144.06 L103.78,144.48 L105.00,144.96 L106.08,145.41 L107.22,145.90 L108.41,146.40 L109.61,146.89 L110.80,147.35 L111.98,147.77 L113.16,148.19 L114.34,148.58 L115.52,148.94 L116.70,149.24 L117.86,149.47 L119.02,149.66 L120.18,149.81 L121.34,149.92 L122.50,150.02 L123.68,150.11 L124.86,150.18 L126.04,150.21 L127.22,150.22 L128.40,150.20 L129.57,150.13 L130.73,150.03 L131.88,149.89 L133.04,149.75 L134.20,149.60 L135.36,149.46 L136.52,149.31 L137.67,149.16 L138.83,148.99 L140.00,148.80 L141.18,148.58 L142.36,148.34 L143.54,148.09 L144.72,147.84 L145.90,147.60 L147.06,147.37 L148.22,147.14 L149.38,146.91 L150.54,146.70 L151.70,146.50 L152.88,146.31 L154.06,146.13 L155.24,145.96 L156.42,145.82 L157.60,145.70 L158.77,145.62 L159.93,145.56 L161.08,145.52 L162.24,145.50 L163.40,145.50 L164.58,145.51 L165.77,145.54 L166.96,145.59 L168.11,145.64 L169.20,145.70 L170.48,145.83 L171.69,146.01 L172.84,146.13 L173.90,146.10 L175.13,145.82 L176.23,145.33 L177.40,144.54 L178.39,143.74 L179.43,142.77 L180.48,141.64 L181.50,140.33 L182.80,138.32 L184.07,136.01 L185.30,133.34 L186.49,130.11 L187.64,126.53 L188.70,123.16 L190.06,119.03 L191.30,114.94 L192.55,109.98 L193.80,105.04 L195.09,100.88 L196.40,96.96 L197.71,92.87 L199.00,89.00 L200.25,85.66 L201.50,82.75 L202.74,80.31 L204.10,78.19 L205.17,76.84 L206.33,75.59 L207.50,74.53 L208.63,73.72 L209.78,73.10 L211.00,72.58 L212.01,72.21 L213.09,71.89 L214.18,71.64 L215.20,71.50 L216.45,71.50 L217.63,71.67 L218.80,71.98 L219.98,72.44 L221.14,73.04 L222.30,73.75 L223.44,74.51 L224.57,75.38 L225.70,76.38 L226.83,77.55 L227.97,78.86 L229.10,80.28 L230.23,81.83 L231.36,83.50 L232.50,85.29 L233.66,87.18 L234.84,89.19 L236.00,91.30 L237.14,93.53 L238.27,95.85 L239.40,98.19 L240.53,100.50 L241.67,102.82 L242.80,105.17 L243.93,107.57 L245.06,110.01 L246.20,112.46 L247.36,114.96 L248.54,117.48 L249.70,119.86 L250.84,122.04 L251.97,124.09 L253.10,126.04 L254.23,127.89 L255.37,129.64 L256.50,131.29 L257.63,132.88 L258.76,134.38 L259.90,135.75 L261.06,136.97 L262.24,138.07 L263.40,139.00 L264.48,139.74 L265.54,140.33 L266.80,140.86 L267.73,141.17 L268.77,141.46 L269.85,141.74 L270.92,142.00 L271.90,142.23 L272.95,142.49 L273.89,142.70 L274.86,142.90 L276.00,143.10 L276.89,143.23 L277.86,143.36 L278.88,143.49 L279.93,143.61 L280.98,143.75 L282.00,143.90 L283.00,144.07 L284.01,144.25 L285.03,144.44 L286.03,144.64 L287.02,144.83 L288.00,145.00 L289.24,145.21 L290.54,145.42 L291.78,145.61 L292.84,145.78 L293.60,145.89 L293.60,153.71 L292.84,153.61 L291.78,153.48 L290.54,153.33 L289.24,153.17 L288.00,153.00 L287.02,152.86 L286.03,152.70 L285.03,152.54 L284.01,152.38 L283.00,152.23 L282.00,152.10 L280.98,151.98 L279.93,151.88 L278.88,151.79 L277.86,151.70 L276.89,151.60 L276.00,151.50 L274.86,151.33 L273.89,151.16 L272.95,150.97 L271.90,150.77 L270.92,150.59 L269.85,150.40 L268.77,150.21 L267.73,149.99 L266.80,149.74 L265.54,149.32 L264.48,148.84 L263.40,148.20 L262.24,147.36 L261.06,146.38 L259.90,145.25 L258.76,143.99 L257.63,142.59 L256.50,141.11 L255.37,139.55 L254.23,137.90 L253.10,136.16 L251.97,134.31 L250.84,132.36 L249.70,130.34 L248.54,128.25 L247.36,126.09 L246.20,123.94 L245.06,121.82 L243.93,119.71 L242.80,117.63 L241.67,115.60 L240.53,113.60 L239.40,111.61 L238.27,109.61 L237.14,107.61 L236.00,105.70 L234.84,103.88 L233.66,102.14 L232.50,100.51 L231.36,99.00 L230.23,97.60 L229.10,96.32 L227.97,95.17 L226.83,94.15 L225.70,93.22 L224.57,92.35 L223.44,91.56 L222.30,90.85 L221.14,90.21 L219.98,89.64 L218.80,89.22 L217.63,88.99 L216.45,88.89 L215.20,88.90 L214.18,88.95 L213.09,89.05 L212.01,89.20 L211.00,89.42 L209.78,89.77 L208.63,90.23 L207.50,90.88 L206.33,91.76 L205.17,92.84 L204.10,94.01 L202.74,95.87 L201.50,98.05 L200.25,100.71 L199.00,103.80 L197.71,107.42 L196.40,111.24 L195.09,114.81 L193.80,118.56 L192.55,123.02 L191.30,127.46 L190.06,131.06 L188.70,134.64 L187.64,137.57 L186.49,140.68 L185.30,143.46 L184.07,145.73 L182.80,147.66 L181.50,149.28 L180.48,150.27 L179.43,151.08 L178.39,151.73 L177.40,152.26 L176.23,152.74 L175.13,152.99 L173.90,153.10 L172.84,153.08 L171.69,152.96 L170.48,152.81 L169.20,152.70 L168.11,152.64 L166.96,152.59 L165.77,152.54 L164.58,152.51 L163.40,152.50 L162.24,152.50 L161.08,152.52 L159.93,152.56 L158.77,152.62 L157.60,152.70 L156.42,152.82 L155.24,152.96 L154.06,153.13 L152.88,153.31 L151.70,153.50 L150.54,153.70 L149.38,153.91 L148.22,154.14 L147.06,154.37 L145.90,154.60 L144.72,154.84 L143.54,155.09 L142.36,155.34 L141.18,155.58 L140.00,155.80 L138.83,155.99 L137.67,156.16 L136.52,156.31 L135.36,156.46 L134.20,156.60 L133.04,156.74 L131.88,156.87 L130.73,157.00 L129.57,157.11 L128.40,157.20 L127.22,157.27 L126.04,157.33 L124.86,157.37 L123.68,157.39 L122.50,157.38 L121.34,157.35 L120.18,157.31 L119.02,157.24 L117.86,157.13 L116.70,156.96 L115.52,156.74 L114.34,156.46 L113.16,156.15 L111.98,155.80 L110.80,155.45 L109.61,155.08 L108.41,154.66 L107.22,154.24 L106.08,153.82 L105.00,153.44 L103.78,153.04 L102.66,152.69 L101.58,152.33 L100.50,151.88 L99.41,151.33 L98.34,150.71 L97.28,150.05 L96.20,149.41 L95.11,148.77 L94.01,148.10 L92.90,147.47 L91.80,146.94 L90.70,146.52 L89.60,146.17 L88.50,145.89 L87.40,145.67 L86.30,145.52 L85.20,145.45 L84.10,145.42 L83.00,145.40 L81.90,145.39 L80.79,145.40 L79.69,145.44 L78.60,145.51 L77.52,145.62 L76.45,145.76 L75.38,145.93 L74.30,146.12 L73.21,146.33 L72.11,146.57 L71.00,146.83 L69.90,147.13 L68.80,147.46 L67.70,147.84 L66.60,148.23 L65.50,148.63 L64.40,149.03 L63.29,149.44 L62.19,149.86 L61.10,150.32 L60.01,150.82 L58.92,151.36 L57.85,151.90 L56.80,152.42 L55.69,152.96 L54.53,153.51 L53.51,154.00 L52.80,154.34 Z" fill="rgb(250,147,152)" fill-opacity="0.38"/>
<line x1="173.20" y1="65.10" x2="173.20" y2="160.50" stroke="#6495ed" stroke-width="1.6" stroke-dasharray="5.6 5.7"/>
<path d="M52.80,151.20 C53.47,150.85 55.42,149.83 56.80,149.10 C58.18,148.37 59.65,147.50 61.10,146.80 C62.55,146.10 64.03,145.52 65.50,144.90 C66.97,144.28 68.43,143.62 69.90,143.10 C71.37,142.58 72.85,142.17 74.30,141.80 C75.75,141.43 77.15,141.12 78.60,140.90 C80.05,140.68 81.53,140.50 83.00,140.50 C84.47,140.50 85.93,140.60 87.40,140.90 C88.87,141.20 90.33,141.63 91.80,142.30 C93.27,142.97 94.75,144.03 96.20,144.90 C97.65,145.77 99.03,146.78 100.50,147.50 C101.97,148.22 103.28,148.55 105.00,149.20 C106.72,149.85 108.85,150.75 110.80,151.40 C112.75,152.05 114.75,152.72 116.70,153.10 C118.65,153.48 120.55,153.60 122.50,153.70 C124.45,153.80 126.45,153.80 128.40,153.70 C130.35,153.60 132.27,153.33 134.20,153.10 C136.13,152.87 138.05,152.63 140.00,152.30 C141.95,151.97 143.95,151.48 145.90,151.10 C147.85,150.72 149.75,150.32 151.70,150.00 C153.65,149.68 155.65,149.37 157.60,149.20 C159.55,149.03 161.47,149.00 163.40,149.00 C165.33,149.00 167.45,149.10 169.20,149.20 C170.95,149.30 172.53,149.73 173.90,149.60 C175.27,149.47 176.13,149.20 177.40,148.40 C178.67,147.60 180.18,146.47 181.50,144.80 C182.82,143.13 184.10,141.05 185.30,138.40 C186.50,135.75 187.70,131.77 188.70,128.90 C189.70,126.03 190.45,124.05 191.30,121.20 C192.15,118.35 192.95,114.65 193.80,111.80 C194.65,108.95 195.53,106.67 196.40,104.10 C197.27,101.53 198.15,98.68 199.00,96.40 C199.85,94.12 200.65,92.12 201.50,90.40 C202.35,88.68 203.10,87.38 204.10,86.10 C205.10,84.82 206.35,83.55 207.50,82.70 C208.65,81.85 209.72,81.42 211.00,81.00 C212.28,80.58 213.90,80.27 215.20,80.20 C216.50,80.13 217.62,80.25 218.80,80.60 C219.98,80.95 221.15,81.60 222.30,82.30 C223.45,83.00 224.57,83.80 225.70,84.80 C226.83,85.80 227.97,86.95 229.10,88.30 C230.23,89.65 231.35,91.20 232.50,92.90 C233.65,94.60 234.85,96.50 236.00,98.50 C237.15,100.50 238.27,102.75 239.40,104.90 C240.53,107.05 241.67,109.18 242.80,111.40 C243.93,113.62 245.05,115.92 246.20,118.20 C247.35,120.48 248.55,122.95 249.70,125.10 C250.85,127.25 251.97,129.25 253.10,131.10 C254.23,132.95 255.37,134.63 256.50,136.20 C257.63,137.77 258.75,139.27 259.90,140.50 C261.05,141.73 262.25,142.80 263.40,143.60 C264.55,144.40 265.38,144.82 266.80,145.30 C268.22,145.78 270.37,146.17 271.90,146.50 C273.43,146.83 274.32,147.05 276.00,147.30 C277.68,147.55 280.00,147.72 282.00,148.00 C284.00,148.28 286.07,148.70 288.00,149.00 C289.93,149.30 292.67,149.67 293.60,149.80" fill="none" stroke="#ff0000" stroke-width="1.6" stroke-linejoin="round"/>
<line x1="186.20" y1="67.90" x2="258.70" y2="67.90" stroke="#ff0000" stroke-width="3.2" stroke-linecap="round"/>
<line x1="39.00" y1="160.70" x2="307.40" y2="160.70" stroke="#d6d6d6" stroke-width="1.3"/>
<line x1="39.00" y1="160.50" x2="39.00" y2="157.90" stroke="#555" stroke-width="1"/>
<text x="39.00" y="172.30" text-anchor="middle" font-size="9.6" fill="#262626" stroke="#262626" stroke-width="0.22">-0.5</text>
<line x1="65.84" y1="160.50" x2="65.84" y2="157.90" stroke="#555" stroke-width="1"/>
<text x="65.84" y="172.30" text-anchor="middle" font-size="9.6" fill="#262626" stroke="#262626" stroke-width="0.22">-0.4</text>
<line x1="92.68" y1="160.50" x2="92.68" y2="157.90" stroke="#555" stroke-width="1"/>
<text x="92.68" y="172.30" text-anchor="middle" font-size="9.6" fill="#262626" stroke="#262626" stroke-width="0.22">-0.3</text>
<line x1="119.52" y1="160.50" x2="119.52" y2="157.90" stroke="#555" stroke-width="1"/>
<text x="119.52" y="172.30" text-anchor="middle" font-size="9.6" fill="#262626" stroke="#262626" stroke-width="0.22">-0.2</text>
<line x1="146.36" y1="160.50" x2="146.36" y2="157.90" stroke="#555" stroke-width="1"/>
<text x="146.36" y="172.30" text-anchor="middle" font-size="9.6" fill="#262626" stroke="#262626" stroke-width="0.22">-0.1</text>
<line x1="173.20" y1="160.50" x2="173.20" y2="157.90" stroke="#555" stroke-width="1"/>
<text x="173.20" y="172.30" text-anchor="middle" font-size="9.6" fill="#262626" stroke="#262626" stroke-width="0.22">0</text>
<line x1="200.04" y1="160.50" x2="200.04" y2="157.90" stroke="#555" stroke-width="1"/>
<text x="200.04" y="172.30" text-anchor="middle" font-size="9.6" fill="#262626" stroke="#262626" stroke-width="0.22">0.1</text>
<line x1="226.88" y1="160.50" x2="226.88" y2="157.90" stroke="#555" stroke-width="1"/>
<text x="226.88" y="172.30" text-anchor="middle" font-size="9.6" fill="#262626" stroke="#262626" stroke-width="0.22">0.2</text>
<line x1="253.72" y1="160.50" x2="253.72" y2="157.90" stroke="#555" stroke-width="1"/>
<text x="253.72" y="172.30" text-anchor="middle" font-size="9.6" fill="#262626" stroke="#262626" stroke-width="0.22">0.3</text>
<line x1="280.56" y1="160.50" x2="280.56" y2="157.90" stroke="#555" stroke-width="1"/>
<text x="280.56" y="172.30" text-anchor="middle" font-size="9.6" fill="#262626" stroke="#262626" stroke-width="0.22">0.4</text>
<line x1="307.40" y1="160.50" x2="307.40" y2="157.90" stroke="#555" stroke-width="1"/>
<text x="307.40" y="172.30" text-anchor="middle" font-size="9.6" fill="#262626" stroke="#262626" stroke-width="0.22">0.5</text>
<text x="175.50" y="187.00" text-anchor="middle" font-size="11.2" fill="#262626" stroke="#262626" stroke-width="0.22">Time aligned on land. appearance (s)</text>
<line x1="39.00" y1="63.40" x2="307.40" y2="63.40" stroke="#888" stroke-width="1"/>
<line x1="39.10" y1="20.80" x2="39.10" y2="63.40" stroke="#666" stroke-width="1.2"/>
<line x1="39.00" y1="21.40" x2="42.40" y2="21.40" stroke="#333" stroke-width="0.9"/>
<text x="36.20" y="25.10" text-anchor="end" font-size="9.4" fill="#222" stroke="#222" stroke-width="0.22">0</text>
<line x1="39.00" y1="45.00" x2="42.40" y2="45.00" stroke="#333" stroke-width="0.9"/>
<text x="36.20" y="48.70" text-anchor="end" font-size="9.4" fill="#222" stroke="#222" stroke-width="0.22">50</text>
<text transform="translate(23.80,74.70) rotate(-90)" font-size="10.8" fill="#222" stroke="#222" stroke-width="0.22">Appearances</text>
<line x1="307.40" y1="63.40" x2="307.40" y2="160.50" stroke="#e52a30" stroke-width="1.1"/>
<line x1="304.60" y1="66.30" x2="307.40" y2="66.30" stroke="#e52a30" stroke-width="0.9"/>
<text x="309.60" y="69.70" font-size="9.4" fill="#e8242c" stroke="#e8242c" stroke-width="0.22">60</text>
<line x1="304.60" y1="100.00" x2="307.40" y2="100.00" stroke="#e52a30" stroke-width="0.9"/>
<text x="309.60" y="103.40" font-size="9.4" fill="#e8242c" stroke="#e8242c" stroke-width="0.22">40</text>
<line x1="304.60" y1="133.40" x2="307.40" y2="133.40" stroke="#e52a30" stroke-width="0.9"/>
<text x="309.60" y="136.80" font-size="9.4" fill="#e8242c" stroke="#e8242c" stroke-width="0.22">20</text>
<text transform="translate(325.30,67.60) rotate(90)" font-size="10.9" fill="#e8242c" stroke="#e8242c" stroke-width="0.22">Firing rate (spike/s)</text>
<text x="37.20" y="79.70" font-size="14.5" fill="#e8242c" stroke="#e8242c" stroke-width="0.22">PPC</text>
<text x="-1.20" y="11.80" font-size="22" font-weight="bold" fill="#000">a</text>
<rect x="119.52" y="224.30" width="134.20" height="42.10" fill="#eaf0fd"/>
<rect x="119.52" y="268.00" width="134.20" height="95.50" fill="#eaf0fd"/>
<path d="M211.4 225.50h1.0M158.9 225.50h1.8M231.3 225.50h1.0M198.3 225.50h1.0M175.5 225.50h1.8M159.5 225.50h1.0M260.4 225.50h1.0M168.6 225.50h1.0M179.0 225.50h1.0M172.8 225.50h1.0M73.8 225.50h1.8M287.6 225.50h1.0M252.8 226.23h1.8M206.7 226.23h1.0M118.5 226.23h1.0M232.0 226.23h1.0M226.0 226.23h1.0M106.2 226.23h1.0M121.0 226.23h1.0M50.5 226.23h1.8M213.0 226.23h1.0M244.0 226.23h1.8M117.2 226.96h1.0M257.2 226.96h1.0M178.7 226.96h1.0M239.0 226.96h1.0M265.9 226.96h1.8M134.2 226.96h1.0M69.9 226.96h1.0M199.3 226.96h1.0M71.7 226.96h1.8M203.2 226.96h1.0M172.8 226.96h1.0M48.8 227.69h1.0M210.9 227.69h1.0M210.7 227.69h1.8M110.5 227.69h1.0M239.2 227.69h1.0M219.8 227.69h1.0M304.5 227.69h1.0M171.3 228.42h1.8M237.9 228.42h1.8M276.2 228.42h1.0M291.1 228.42h1.8M162.9 228.42h1.8M190.7 228.42h1.8M270.5 228.42h1.0M46.8 228.42h1.8M90.8 228.42h1.8M306.2 228.42h1.8M294.0 228.42h1.0M51.1 228.42h1.0M141.2 228.42h1.8M133.2 228.42h1.0M236.5 228.42h1.0M170.9 228.42h1.0M93.1 228.42h1.8M75.5 228.42h1.0M185.2 228.42h1.0M216.2 228.42h1.8M72.0 228.42h1.0M43.4 228.42h1.0M199.4 228.42h1.8M238.2 228.42h1.8M99.9 228.42h1.0M165.4 228.42h1.0M60.6 228.42h1.8M116.5 229.15h1.8M270.8 229.15h1.0M188.8 229.15h1.0M217.5 229.15h1.8M55.5 229.15h1.0M190.1 229.88h1.0M206.4 229.88h1.0M143.8 229.88h1.8M279.9 229.88h1.0M210.8 229.88h1.8M108.5 229.88h1.0M241.5 229.88h1.8M243.6 229.88h1.0M131.4 229.88h1.8M208.4 229.88h1.0M281.5 229.88h1.0M293.5 229.88h1.0M187.6 229.88h1.0M183.2 229.88h1.0M188.1 229.88h1.8M276.5 230.61h1.0M238.8 230.61h1.0M45.0 230.61h1.0M206.4 230.61h1.0M172.1 230.61h1.8M205.2 230.61h1.8M245.8 230.61h1.0M263.9 230.61h1.0M221.0 230.61h1.8M50.2 230.61h1.8M291.1 230.61h1.8M46.9 230.61h1.0M188.6 230.61h1.0M157.2 231.34h1.0M219.9 231.34h1.0M186.9 231.34h1.0M188.8 231.34h1.0M249.3 231.34h1.0M289.5 231.34h1.0M214.3 231.34h1.0M50.4 231.34h1.0M306.2 231.34h1.8M128.5 231.34h1.0M277.9 231.34h1.0M88.3 231.34h1.0M134.8 232.07h1.0M215.8 232.07h1.0M247.4 232.07h1.8M122.3 232.07h1.8M149.6 232.07h1.8M182.1 232.07h1.8M253.4 232.07h1.8M211.9 232.07h1.0M214.9 232.07h1.8M43.2 232.07h1.0M277.4 232.07h1.8M105.2 232.80h1.8M165.3 232.80h1.8M134.7 232.80h1.0M59.4 232.80h1.0M269.0 232.80h1.8M174.7 232.80h1.8M82.3 232.80h1.8M112.1 232.80h1.0M300.3 232.80h1.0M97.0 232.80h1.8M229.8 232.80h1.0M228.3 233.53h1.0M271.6 233.53h1.0M238.5 233.53h1.0M271.8 233.53h1.0M210.9 233.53h1.0M122.4 233.53h1.0M182.8 233.53h1.0M239.4 234.26h1.0M143.4 234.26h1.8M163.0 234.26h1.0M103.7 234.99h1.8M125.2 234.99h1.8M117.9 234.99h1.0M268.9 234.99h1.0M120.2 234.99h1.0M47.6 234.99h1.8M57.1 234.99h1.0M133.6 234.99h1.0M91.7 234.99h1.0M161.7 234.99h1.0M232.0 234.99h1.8M162.4 234.99h1.0M79.9 234.99h1.0M87.6 234.99h1.8M142.9 234.99h1.0M54.9 234.99h1.0M268.4 234.99h1.8M193.1 234.99h1.0M100.4 234.99h1.0M103.3 234.99h1.0M194.4 234.99h1.0M157.8 234.99h1.0M243.3 235.72h1.0M251.9 235.72h1.0M149.8 236.45h1.8M209.7 236.45h1.0M129.6 237.18h1.8M99.8 237.18h1.0M138.2 237.18h1.0M217.7 237.18h1.8M117.3 237.18h1.8M238.1 237.18h1.0M221.1 237.18h1.0M99.6 237.18h1.0M144.3 237.91h1.0M231.1 237.91h1.8M91.3 237.91h1.0M234.0 237.91h1.8M157.5 237.91h1.0M253.4 237.91h1.0M84.8 237.91h1.0M179.5 237.91h1.0M281.4 237.91h1.0M248.1 238.64h1.0M184.0 238.64h1.0M173.8 238.64h1.8M271.3 238.64h1.8M102.2 238.64h1.0M163.7 238.64h1.0M246.1 238.64h1.0M164.6 239.37h1.0M172.8 239.37h1.0M232.8 240.10h1.0M81.1 240.10h1.0M78.9 240.10h1.0M195.7 240.10h1.0M195.0 240.10h1.8M195.8 240.10h1.0M259.9 240.10h1.0M219.2 240.10h1.0M204.4 240.10h1.0M246.4 240.10h1.0M119.4 240.10h1.0M281.8 240.10h1.0M187.1 240.10h1.0M58.5 240.10h1.0M236.7 240.83h1.0M251.2 240.83h1.8M145.4 240.83h1.0M85.1 240.83h1.0M199.8 240.83h1.0M143.9 240.83h1.8M102.3 240.83h1.0M236.7 240.83h1.8M231.1 240.83h1.0M148.6 240.83h1.0M218.1 240.83h1.0M173.4 240.83h1.0M94.0 240.83h1.0M203.6 240.83h1.0M203.6 241.56h1.0M84.4 241.56h1.0M150.0 241.56h1.0M236.6 241.56h1.0M85.0 241.56h1.8M296.2 241.56h1.0M283.4 241.56h1.0M264.2 241.56h1.8M109.3 241.56h1.0M245.6 241.56h1.8M285.2 241.56h1.8M299.3 241.56h1.0M305.9 241.56h1.0M107.2 241.56h1.8M222.5 242.29h1.0M306.2 242.29h1.8M245.1 242.29h1.8M252.4 242.29h1.8M204.3 242.29h1.8M115.7 243.02h1.0M269.7 243.02h1.0M53.1 243.02h1.0M211.0 243.02h1.0M195.7 243.02h1.0M162.0 243.02h1.0M89.6 243.02h1.0M87.1 243.02h1.0M202.3 243.02h1.0M48.3 243.02h1.0M268.5 243.02h1.0M296.5 243.02h1.0M194.2 243.02h1.8M280.5 243.75h1.0M273.8 243.75h1.0M304.1 243.75h1.8M57.8 243.75h1.0M211.0 243.75h1.0M153.9 243.75h1.0M195.1 243.75h1.0M302.1 243.75h1.0M249.2 244.48h1.0M56.1 244.48h1.0M115.5 244.48h1.0M156.4 245.94h1.8M43.5 245.94h1.0M235.9 245.94h1.0M70.9 245.94h1.8M157.1 245.94h1.0M211.3 245.94h1.0M268.2 245.94h1.8M107.4 245.94h1.0M106.1 245.94h1.0M214.1 245.94h1.0M194.5 246.67h1.0M265.2 246.67h1.0M228.7 246.67h1.8M135.2 246.67h1.0M250.2 246.67h1.0M189.2 246.67h1.0M57.9 246.67h1.0M78.2 246.67h1.0M93.1 246.67h1.8M255.6 246.67h1.0M172.6 247.40h1.0M245.6 247.40h1.0M272.5 247.40h1.0M156.8 247.40h1.0M186.5 247.40h1.0M213.3 247.40h1.8M210.4 247.40h1.8M182.7 247.40h1.0M270.9 247.40h1.8M279.5 247.40h1.0M161.9 247.40h1.0M288.0 248.13h1.0M236.6 248.13h1.0M290.3 248.13h1.0M211.7 248.13h1.0M164.1 248.13h1.8M220.6 248.13h1.0M274.1 248.13h1.0M131.6 248.13h1.8M130.6 248.13h1.0M280.8 248.13h1.0M201.6 249.59h1.0M167.5 249.59h1.0M48.0 249.59h1.8M90.7 249.59h1.0M179.5 249.59h1.0M157.3 250.32h1.8M244.4 250.32h1.8M218.1 250.32h1.8M119.2 250.32h1.0M202.0 250.32h1.8M214.1 250.32h1.0M158.1 250.32h1.0M207.7 250.32h1.0M237.2 250.32h1.8M119.6 251.05h1.8M175.5 251.05h1.0M66.7 251.05h1.0M273.4 251.05h1.0M125.5 251.05h1.0M279.5 251.05h1.8M163.5 251.05h1.8M116.9 251.78h1.0M213.5 251.78h1.0M92.5 251.78h1.0M155.7 251.78h1.0M256.5 252.51h1.0M210.4 252.51h1.0M210.9 252.51h1.0M256.5 252.51h1.0M242.2 252.51h1.0M93.3 252.51h1.0M204.2 252.51h1.0M156.7 252.51h1.0M169.3 252.51h1.0M215.6 252.51h1.8M131.4 253.24h1.8M256.5 253.24h1.0M189.9 253.24h1.0M210.3 253.24h1.8M194.8 253.24h1.8M199.3 253.24h1.8M196.3 253.24h1.0M158.2 253.24h1.8M237.7 253.24h1.0M151.6 253.97h1.0M242.1 253.97h1.0M141.5 253.97h1.8M146.4 253.97h1.8M238.4 254.70h1.0M286.9 254.70h1.0M78.2 254.70h1.0M131.1 254.70h1.8M149.6 254.70h1.8M154.6 255.43h1.8M194.2 255.43h1.0M133.9 255.43h1.8M274.8 255.43h1.0M148.9 255.43h1.8M206.8 256.16h1.0M124.8 256.16h1.0M229.9 256.16h1.0M302.2 256.89h1.0M160.8 256.89h1.8M206.5 256.89h1.8M265.4 256.89h1.0M247.2 256.89h1.0M180.9 256.89h1.8M124.6 256.89h1.8M76.9 256.89h1.8M228.7 256.89h1.8M240.1 256.89h1.0M106.8 256.89h1.0M240.0 256.89h1.8M105.9 256.89h1.0M257.0 256.89h1.0M234.3 256.89h1.0M91.1 256.89h1.0M293.6 256.89h1.8M271.5 257.62h1.0M217.0 257.62h1.0M53.7 257.62h1.0M174.5 257.62h1.0M172.6 257.62h1.0M187.2 258.35h1.8M279.0 258.35h1.0M223.9 258.35h1.0M69.2 258.35h1.0M136.2 258.35h1.0M292.9 258.35h1.8M204.1 259.08h1.8M221.4 259.08h1.0M192.7 259.08h1.8M109.3 259.08h1.8M46.4 259.08h1.8M130.2 259.08h1.0M298.7 259.08h1.0M292.1 259.08h1.0M91.4 259.81h1.8M105.1 259.81h1.0M248.9 259.81h1.0M177.2 259.81h1.0M201.9 259.81h1.8M42.0 259.81h1.0M190.0 259.81h1.0M186.4 259.81h1.0M119.9 260.54h1.8M91.3 260.54h1.0M172.4 260.54h1.0M286.4 260.54h1.0M208.8 260.54h1.8M204.1 260.54h1.0M231.3 260.54h1.8M120.8 260.54h1.0M210.2 260.54h1.0M93.4 261.27h1.0M167.5 261.27h1.8M91.6 261.27h1.0M164.5 261.27h1.0M252.9 261.27h1.8M117.4 261.27h1.0M150.7 261.27h1.0M135.7 261.27h1.0M269.0 261.27h1.0M113.7 261.27h1.0M135.5 262.00h1.8M202.6 262.00h1.8M169.2 262.00h1.8M161.3 262.00h1.0M214.9 262.00h1.0M251.1 262.00h1.8M279.0 262.00h1.0M124.6 262.00h1.0M121.6 262.00h1.0M56.0 262.00h1.8M62.8 262.00h1.0M252.5 262.00h1.8M268.4 262.00h1.0M237.8 262.00h1.8M107.9 262.00h1.8M136.1 262.00h1.0M285.7 262.73h1.0M150.6 262.73h1.0M232.8 262.73h1.8M295.4 262.73h1.0M85.6 262.73h1.0M82.7 262.73h1.8M215.0 262.73h1.0M70.0 262.73h1.8M47.4 262.73h1.0M69.7 262.73h1.8M62.6 262.73h1.0M74.4 262.73h1.0M71.5 263.46h1.0M192.0 263.46h1.0M253.5 263.46h1.8M218.6 263.46h1.8M247.8 263.46h1.8M135.6 263.46h1.0M99.5 263.46h1.0M152.4 263.46h1.0M168.0 263.46h1.0M184.3 263.46h1.0M270.5 263.46h1.0M138.7 263.46h1.0M291.5 264.19h1.8M192.1 264.19h1.0M127.5 264.19h1.0M225.1 264.19h1.0M140.6 264.19h1.8M125.7 264.19h1.0M262.8 264.19h1.0M172.8 264.19h1.0M190.9 264.19h1.0M179.0 264.92h1.8M278.6 264.92h1.8M198.7 264.92h1.0M59.7 264.92h1.0M135.4 264.92h1.0M209.1 264.92h1.0M184.7 264.92h1.0M153.7 264.92h1.0" stroke="#202028" stroke-width="0.75" fill="none"/>
<path d="M52.70,320.40 L53.46,320.25 L54.53,320.01 L55.86,319.87 L57.40,320.00 L58.27,320.18 L59.22,320.42 L60.25,320.70 L61.33,321.04 L62.44,321.43 L63.55,321.89 L64.64,322.41 L65.70,323.00 L66.75,323.71 L67.84,324.56 L68.94,325.51 L70.03,326.50 L71.09,327.49 L72.10,328.44 L73.04,329.29 L73.90,330.00 L75.35,331.08 L76.54,331.87 L77.58,332.48 L78.60,333.00 L79.80,333.63 L80.88,334.06 L82.20,334.10 L83.20,333.91 L84.30,333.57 L85.48,333.10 L86.72,332.51 L88.00,331.80 L88.95,331.20 L89.93,330.49 L90.95,329.71 L91.99,328.89 L93.03,328.06 L94.07,327.25 L95.10,326.50 L96.12,325.78 L97.13,325.05 L98.15,324.33 L99.16,323.64 L100.18,322.97 L101.19,322.36 L102.20,321.80 L103.18,321.29 L104.13,320.82 L105.08,320.39 L106.03,320.01 L107.02,319.68 L108.07,319.41 L109.20,319.20 L110.17,319.10 L111.24,319.05 L112.36,319.06 L113.51,319.09 L114.67,319.15 L115.80,319.22 L116.86,319.30 L117.84,319.36 L118.70,319.40 L120.21,319.51 L121.36,319.67 L122.34,319.76 L123.40,319.70 L124.55,319.56 L125.69,319.36 L126.84,318.90 L128.00,318.00 L129.10,316.57 L130.15,314.73 L131.33,312.57 L132.80,310.20 L133.68,308.90 L134.63,307.48 L135.65,305.97 L136.73,304.41 L137.85,302.84 L139.01,301.29 L140.20,299.80 L141.40,298.40 L142.39,297.34 L143.44,296.31 L144.52,295.29 L145.63,294.30 L146.75,293.33 L147.87,292.38 L148.98,291.46 L150.06,290.55 L151.11,289.67 L152.10,288.80 L153.30,287.75 L154.47,286.74 L155.62,285.77 L156.74,284.82 L157.81,283.91 L158.83,283.02 L159.80,282.15 L160.70,281.30 L161.99,279.88 L163.11,278.42 L164.11,277.07 L165.06,275.98 L166.00,275.30 L167.12,274.97 L168.14,275.11 L169.17,275.76 L170.30,277.00 L171.26,278.39 L172.23,280.12 L173.26,282.22 L174.40,284.73 L175.70,287.70 L176.61,289.88 L177.60,292.35 L178.66,295.03 L179.75,297.86 L180.87,300.76 L182.00,303.65 L183.11,306.45 L184.20,309.10 L185.31,311.73 L186.47,314.49 L187.65,317.27 L188.83,319.99 L189.97,322.55 L191.03,324.87 L191.98,326.85 L192.80,328.40 L194.24,330.37 L195.09,330.37 L196.00,330.00 L197.19,329.94 L198.44,329.51 L199.80,328.30 L200.93,326.64 L202.14,324.44 L203.38,321.98 L204.60,319.50 L205.80,316.92 L206.99,314.15 L208.19,311.46 L209.40,309.10 L210.60,307.12 L211.80,305.38 L213.02,303.90 L214.30,302.70 L215.39,301.94 L216.53,301.35 L217.68,300.93 L218.82,300.68 L219.90,300.60 L221.16,300.80 L222.35,301.32 L223.52,302.00 L224.70,302.70 L225.88,303.42 L227.05,304.21 L228.24,305.05 L229.50,305.90 L230.58,306.62 L231.72,307.38 L232.88,308.14 L234.02,308.84 L235.10,309.40 L236.32,309.82 L237.44,310.02 L238.60,310.24 L239.90,310.70 L240.92,311.22 L242.04,311.86 L243.22,312.58 L244.38,313.33 L245.46,314.05 L246.40,314.70 L247.83,315.83 L248.96,316.86 L250.10,317.90 L251.34,319.06 L252.60,320.23 L254.00,321.10 L254.94,321.42 L255.95,321.63 L257.00,321.74 L258.05,321.76 L259.10,321.70 L260.11,321.54 L261.12,321.26 L262.13,320.92 L263.18,320.55 L264.30,320.20 L265.31,319.90 L266.39,319.55 L267.51,319.20 L268.62,318.88 L269.69,318.64 L270.70,318.50 L271.80,318.45 L272.83,318.48 L273.82,318.63 L274.79,318.92 L275.80,319.40 L276.84,320.10 L277.88,321.00 L278.92,322.04 L279.96,323.16 L281.00,324.30 L281.99,325.47 L282.93,326.72 L283.89,328.02 L284.93,329.35 L286.10,330.70 L287.11,331.74 L288.29,332.88 L289.54,334.07 L290.78,335.22 L291.93,336.27 L292.90,337.15 L293.60,337.80 L293.60,360.90 L292.93,360.62 L292.00,360.22 L290.90,359.76 L289.71,359.26 L288.52,358.76 L287.40,358.30 L286.34,357.88 L285.28,357.46 L284.21,357.05 L283.14,356.64 L282.07,356.22 L281.00,355.80 L279.93,355.35 L278.87,354.87 L277.81,354.38 L276.74,353.92 L275.67,353.52 L274.60,353.20 L273.52,352.98 L272.44,352.83 L271.35,352.74 L270.26,352.68 L269.18,352.64 L268.10,352.60 L267.03,352.58 L265.96,352.60 L264.89,352.63 L263.83,352.66 L262.77,352.66 L261.70,352.60 L260.63,352.50 L259.54,352.39 L258.46,352.24 L257.38,352.06 L256.33,351.81 L255.30,351.50 L254.13,351.02 L253.00,350.45 L251.90,349.80 L250.77,349.11 L249.60,348.40 L248.57,347.78 L247.52,347.10 L246.45,346.41 L245.37,345.71 L244.28,345.03 L243.20,344.40 L242.12,343.82 L241.04,343.27 L239.95,342.75 L238.86,342.24 L237.78,341.72 L236.70,341.20 L235.62,340.67 L234.53,340.13 L233.44,339.60 L232.37,339.07 L231.32,338.53 L230.30,338.00 L229.12,337.33 L227.96,336.64 L226.84,335.96 L225.76,335.34 L224.70,334.80 L223.42,334.23 L222.20,333.75 L221.03,333.39 L219.90,333.20 L218.86,333.16 L217.90,333.25 L216.94,333.52 L215.90,334.00 L214.80,334.70 L213.66,335.60 L212.44,336.70 L211.10,338.00 L210.10,339.04 L209.00,340.25 L207.85,341.55 L206.70,342.86 L205.60,344.10 L204.60,345.20 L203.28,346.69 L202.09,348.08 L200.96,349.23 L199.80,350.00 L198.59,350.38 L197.37,350.43 L196.16,350.14 L195.00,349.50 L193.94,348.53 L192.96,347.22 L191.92,345.53 L190.70,343.40 L189.74,341.64 L188.69,339.59 L187.58,337.34 L186.44,335.01 L185.30,332.70 L184.20,330.50 L183.10,328.33 L181.98,326.09 L180.86,323.86 L179.77,321.73 L178.74,319.78 L177.80,318.10 L176.63,316.09 L175.65,314.52 L174.67,313.29 L173.50,312.30 L172.58,311.70 L171.60,311.17 L170.57,310.76 L169.47,310.52 L168.32,310.51 L167.10,310.80 L166.16,311.25 L165.20,311.90 L164.22,312.70 L163.20,313.63 L162.13,314.63 L161.00,315.67 L159.79,316.70 L158.50,317.70 L157.57,318.35 L156.56,319.02 L155.50,319.71 L154.39,320.41 L153.25,321.12 L152.10,321.84 L150.95,322.57 L149.81,323.30 L148.70,324.03 L147.64,324.76 L146.63,325.48 L145.70,326.20 L144.42,327.26 L143.25,328.29 L142.16,329.33 L141.13,330.36 L140.13,331.42 L139.14,332.50 L138.14,333.62 L137.10,334.80 L136.01,336.09 L134.88,337.50 L133.73,338.99 L132.60,340.49 L131.50,341.94 L130.45,343.30 L129.48,344.51 L128.60,345.50 L127.19,346.86 L126.10,347.65 L125.11,348.17 L124.00,348.70 L123.05,349.17 L122.13,349.57 L121.16,349.92 L120.04,350.26 L118.70,350.60 L117.83,350.80 L116.87,351.00 L115.84,351.20 L114.76,351.40 L113.65,351.59 L112.51,351.77 L111.39,351.93 L110.27,352.08 L109.20,352.20 L108.14,352.29 L107.06,352.35 L105.97,352.38 L104.88,352.39 L103.81,352.41 L102.75,352.42 L101.73,352.45 L100.74,352.51 L99.80,352.60 L98.67,352.75 L97.63,352.91 L96.64,353.10 L95.68,353.32 L94.74,353.57 L93.78,353.86 L92.80,354.20 L91.78,354.62 L90.74,355.11 L89.70,355.66 L88.66,356.22 L87.64,356.77 L86.65,357.27 L85.70,357.70 L84.44,358.22 L83.25,358.69 L82.10,359.08 L80.96,359.36 L79.80,359.50 L78.64,359.48 L77.50,359.32 L76.35,359.05 L75.16,358.70 L73.90,358.30 L72.95,357.97 L71.96,357.57 L70.94,357.13 L69.90,356.67 L68.86,356.20 L67.82,355.74 L66.80,355.30 L65.80,354.86 L64.80,354.41 L63.80,353.95 L62.80,353.50 L61.80,353.08 L60.80,352.71 L59.80,352.40 L58.73,352.16 L57.57,351.97 L56.39,351.83 L55.25,351.72 L54.21,351.63 L53.34,351.56 L52.70,351.50 Z" fill="rgb(250,147,152)" fill-opacity="0.38"/>
<line x1="173.20" y1="268.10" x2="173.20" y2="363.50" stroke="#6495ed" stroke-width="1.6" stroke-dasharray="5.6 5.7"/>
<path d="M52.70,335.70 C53.48,335.63 55.83,335.10 57.40,335.30 C58.97,335.50 60.53,336.25 62.10,336.90 C63.67,337.55 65.22,338.28 66.80,339.20 C68.38,340.12 70.02,341.42 71.60,342.40 C73.18,343.38 74.63,344.45 76.30,345.10 C77.97,345.75 80.03,346.37 81.60,346.30 C83.17,346.23 84.23,345.42 85.70,344.70 C87.17,343.98 88.83,342.88 90.40,342.00 C91.97,341.12 93.53,340.17 95.10,339.40 C96.67,338.63 98.23,337.95 99.80,337.40 C101.37,336.85 102.93,336.45 104.50,336.10 C106.07,335.75 107.62,335.53 109.20,335.30 C110.78,335.07 112.42,334.90 114.00,334.70 C115.58,334.50 117.13,334.38 118.70,334.10 C120.27,333.82 121.85,333.58 123.40,333.00 C124.95,332.42 126.78,331.55 128.00,330.60 C129.22,329.65 129.35,328.92 130.70,327.30 C132.05,325.68 134.32,322.93 136.10,320.90 C137.88,318.87 139.80,316.63 141.40,315.10 C143.00,313.57 143.92,312.98 145.70,311.70 C147.48,310.42 150.13,308.90 152.10,307.40 C154.07,305.90 155.72,304.48 157.50,302.70 C159.28,300.92 161.20,298.32 162.80,296.70 C164.40,295.08 165.85,293.43 167.10,293.00 C168.35,292.57 169.23,293.20 170.30,294.10 C171.37,295.00 172.25,296.25 173.50,298.40 C174.75,300.55 176.37,303.97 177.80,307.00 C179.23,310.03 180.67,313.40 182.10,316.60 C183.53,319.80 184.97,323.17 186.40,326.20 C187.83,329.23 189.28,332.47 190.70,334.80 C192.12,337.13 193.65,339.18 194.90,340.20 C196.15,341.22 197.12,341.13 198.20,340.90 C199.28,340.67 200.33,339.95 201.40,338.80 C202.47,337.65 203.53,335.75 204.60,334.00 C205.67,332.25 206.72,330.05 207.80,328.30 C208.88,326.55 210.02,325.05 211.10,323.50 C212.18,321.95 213.23,320.07 214.30,319.00 C215.37,317.93 216.43,317.47 217.50,317.10 C218.57,316.73 219.63,316.67 220.70,316.80 C221.77,316.93 222.83,317.32 223.90,317.90 C224.97,318.48 226.03,319.50 227.10,320.30 C228.17,321.10 229.23,321.90 230.30,322.70 C231.37,323.50 232.43,324.57 233.50,325.10 C234.57,325.63 235.63,325.63 236.70,325.90 C237.77,326.17 238.82,326.30 239.90,326.70 C240.98,327.10 242.12,327.63 243.20,328.30 C244.28,328.97 245.33,329.88 246.40,330.70 C247.47,331.52 248.67,332.52 249.60,333.20 C250.53,333.88 251.17,334.37 252.00,334.80 C252.83,335.23 253.62,335.45 254.60,335.80 C255.58,336.15 256.72,336.68 257.90,336.90 C259.08,337.12 260.42,337.17 261.70,337.10 C262.98,337.03 264.32,336.77 265.60,336.50 C266.88,336.23 268.12,335.72 269.40,335.50 C270.68,335.28 272.02,335.03 273.30,335.20 C274.58,335.37 275.82,335.80 277.10,336.50 C278.38,337.20 279.72,338.33 281.00,339.40 C282.28,340.47 283.52,341.82 284.80,342.90 C286.08,343.98 287.23,344.83 288.70,345.90 C290.17,346.97 292.78,348.73 293.60,349.30" fill="none" stroke="#ff0000" stroke-width="1.6" stroke-linejoin="round"/>
<line x1="136.90" y1="270.90" x2="182.70" y2="270.90" stroke="#ff0000" stroke-width="3.2" stroke-linecap="round"/>
<line x1="213.50" y1="270.90" x2="228.40" y2="270.90" stroke="#ff0000" stroke-width="3.2" stroke-linecap="round"/>
<line x1="39.00" y1="363.70" x2="307.40" y2="363.70" stroke="#d6d6d6" stroke-width="1.3"/>
<line x1="39.00" y1="363.50" x2="39.00" y2="360.90" stroke="#555" stroke-width="1"/>
<text x="39.00" y="375.30" text-anchor="middle" font-size="9.6" fill="#262626" stroke="#262626" stroke-width="0.22">-0.5</text>
<line x1="65.84" y1="363.50" x2="65.84" y2="360.90" stroke="#555" stroke-width="1"/>
<text x="65.84" y="375.30" text-anchor="middle" font-size="9.6" fill="#262626" stroke="#262626" stroke-width="0.22">-0.4</text>
<line x1="92.68" y1="363.50" x2="92.68" y2="360.90" stroke="#555" stroke-width="1"/>
<text x="92.68" y="375.30" text-anchor="middle" font-size="9.6" fill="#262626" stroke="#262626" stroke-width="0.22">-0.3</text>
<line x1="119.52" y1="363.50" x2="119.52" y2="360.90" stroke="#555" stroke-width="1"/>
<text x="119.52" y="375.30" text-anchor="middle" font-size="9.6" fill="#262626" stroke="#262626" stroke-width="0.22">-0.2</text>
<line x1="146.36" y1="363.50" x2="146.36" y2="360.90" stroke="#555" stroke-width="1"/>
<text x="146.36" y="375.30" text-anchor="middle" font-size="9.6" fill="#262626" stroke="#262626" stroke-width="0.22">-0.1</text>
<line x1="173.20" y1="363.50" x2="173.20" y2="360.90" stroke="#555" stroke-width="1"/>
<text x="173.20" y="375.30" text-anchor="middle" font-size="9.6" fill="#262626" stroke="#262626" stroke-width="0.22">0</text>
<line x1="200.04" y1="363.50" x2="200.04" y2="360.90" stroke="#555" stroke-width="1"/>
<text x="200.04" y="375.30" text-anchor="middle" font-size="9.6" fill="#262626" stroke="#262626" stroke-width="0.22">0.1</text>
<line x1="226.88" y1="363.50" x2="226.88" y2="360.90" stroke="#555" stroke-width="1"/>
<text x="226.88" y="375.30" text-anchor="middle" font-size="9.6" fill="#262626" stroke="#262626" stroke-width="0.22">0.2</text>
<line x1="253.72" y1="363.50" x2="253.72" y2="360.90" stroke="#555" stroke-width="1"/>
<text x="253.72" y="375.30" text-anchor="middle" font-size="9.6" fill="#262626" stroke="#262626" stroke-width="0.22">0.3</text>
<line x1="280.56" y1="363.50" x2="280.56" y2="360.90" stroke="#555" stroke-width="1"/>
<text x="280.56" y="375.30" text-anchor="middle" font-size="9.6" fill="#262626" stroke="#262626" stroke-width="0.22">0.4</text>
<line x1="307.40" y1="363.50" x2="307.40" y2="360.90" stroke="#555" stroke-width="1"/>
<text x="307.40" y="375.30" text-anchor="middle" font-size="9.6" fill="#262626" stroke="#262626" stroke-width="0.22">0.5</text>
<text x="175.50" y="390.00" text-anchor="middle" font-size="11.2" fill="#262626" stroke="#262626" stroke-width="0.22">Time aligned on land. appearance (s)</text>
<line x1="39.00" y1="266.40" x2="307.40" y2="266.40" stroke="#888" stroke-width="1"/>
<line x1="39.10" y1="223.80" x2="39.10" y2="266.40" stroke="#666" stroke-width="1.2"/>
<line x1="39.00" y1="224.60" x2="42.40" y2="224.60" stroke="#333" stroke-width="0.9"/>
<text x="36.20" y="228.30" text-anchor="end" font-size="9.4" fill="#222" stroke="#222" stroke-width="0.22">0</text>
<line x1="39.00" y1="261.10" x2="42.40" y2="261.10" stroke="#333" stroke-width="0.9"/>
<text x="36.20" y="264.80" text-anchor="end" font-size="9.4" fill="#222" stroke="#222" stroke-width="0.22">50</text>
<text transform="translate(23.80,281.70) rotate(-90)" font-size="10.8" fill="#222" stroke="#222" stroke-width="0.22">Appearances</text>
<line x1="307.40" y1="266.40" x2="307.40" y2="363.50" stroke="#e52a30" stroke-width="1.1"/>
<line x1="304.60" y1="282.40" x2="307.40" y2="282.40" stroke="#e52a30" stroke-width="0.9"/>
<text x="309.60" y="285.80" font-size="9.4" fill="#e8242c" stroke="#e8242c" stroke-width="0.22">12</text>
<line x1="304.60" y1="302.20" x2="307.40" y2="302.20" stroke="#e52a30" stroke-width="0.9"/>
<text x="309.60" y="305.60" font-size="9.4" fill="#e8242c" stroke="#e8242c" stroke-width="0.22">10</text>
<line x1="304.60" y1="322.30" x2="307.40" y2="322.30" stroke="#e52a30" stroke-width="0.9"/>
<text x="309.60" y="325.70" font-size="9.4" fill="#e8242c" stroke="#e8242c" stroke-width="0.22">8</text>
<line x1="304.60" y1="342.10" x2="307.40" y2="342.10" stroke="#e52a30" stroke-width="0.9"/>
<text x="309.60" y="345.50" font-size="9.4" fill="#e8242c" stroke="#e8242c" stroke-width="0.22">6</text>
<line x1="304.60" y1="362.10" x2="307.40" y2="362.10" stroke="#e52a30" stroke-width="0.9"/>
<text x="309.60" y="365.50" font-size="9.4" fill="#e8242c" stroke="#e8242c" stroke-width="0.22">4</text>
<text transform="translate(325.30,270.20) rotate(90)" font-size="10.9" fill="#e8242c" stroke="#e8242c" stroke-width="0.22">Firing rate (spike/s)</text>
<text x="37.20" y="282.70" font-size="14.5" fill="#e8242c" stroke="#e8242c" stroke-width="0.22">PPC</text>
<text x="-0.60" y="211.50" font-size="22" font-weight="bold" fill="#000">b</text>
<rect x="475.04" y="21.30" width="134.40" height="42.10" fill="#eaf0fd"/>
<rect x="475.04" y="65.00" width="134.40" height="95.50" fill="#eaf0fd"/>
<path d="M608.2 22.50h1.0M641.5 22.50h1.0M576.5 22.50h1.0M617.0 22.50h1.0M537.6 23.50h1.8M635.1 23.50h1.0M458.8 24.50h1.0M596.9 24.50h1.0M547.4 24.50h1.0M655.3 24.50h1.8M540.1 24.50h1.0M551.2 24.50h1.0M578.5 24.50h1.0M541.3 24.50h1.8M657.0 24.50h1.8M562.0 24.50h1.8M651.6 24.50h1.0M448.3 24.50h1.0M561.8 24.50h1.0M573.8 24.50h1.0M617.8 24.50h1.8M638.1 24.50h1.8M552.3 24.50h1.0M591.8 24.50h1.8M593.6 24.50h1.0M615.2 24.50h1.8M528.5 24.50h1.8M644.5 24.50h1.8M641.3 24.50h1.0M633.8 24.50h1.0M624.3 25.50h1.8M605.8 25.50h1.0M594.2 25.50h1.0M630.0 27.50h1.8M429.0 27.50h1.0M567.3 27.50h1.0M551.3 28.50h1.8M657.5 29.50h1.0M574.7 29.50h1.8M554.2 30.50h1.0M652.7 30.50h1.0M590.6 30.50h1.0M650.0 30.50h1.8M596.3 30.50h1.8M537.7 30.50h1.0M551.0 30.50h1.0M462.7 30.50h1.8M530.8 30.50h1.0M588.4 30.50h1.0M590.6 31.50h1.8M646.8 31.50h1.0M567.1 31.50h1.0M624.0 31.50h1.0M560.2 31.50h1.0M591.7 31.50h1.8M559.3 31.50h1.0M593.7 32.50h1.0M646.2 32.50h1.0M630.5 32.50h1.8M436.6 33.50h1.0M542.7 33.50h1.0M539.3 34.50h1.8M615.1 34.50h1.0M609.8 34.50h1.0M556.5 34.50h1.0M555.7 34.50h1.8M546.1 34.50h1.0M513.2 34.50h1.8M657.9 35.50h1.0M645.0 35.50h1.0M654.8 35.50h1.8M570.2 35.50h1.8M642.0 35.50h1.8M562.8 36.50h1.0M586.7 36.50h1.8M569.9 36.50h1.0M464.4 38.50h1.0M617.2 38.50h1.0M554.2 38.50h1.0M604.5 38.50h1.8M565.1 38.50h1.0M555.2 38.50h1.8M588.7 38.50h1.8M643.0 38.50h1.8M591.1 39.50h1.0M550.4 39.50h1.0M606.3 39.50h1.8M447.7 39.50h1.0M454.5 39.50h1.0M574.9 39.50h1.0M569.6 39.50h1.0M577.5 41.50h1.0M570.4 41.50h1.8M619.5 41.50h1.8M442.4 41.50h1.0M484.1 41.50h1.0M599.6 41.50h1.0M568.9 42.50h1.0M440.6 44.50h1.0M565.3 44.50h1.8M559.4 44.50h1.0M520.6 45.50h1.0M598.4 45.50h1.8M477.3 45.50h1.8M592.4 45.50h1.0M532.7 47.50h1.0M606.9 47.50h1.0M504.9 47.50h1.8M592.4 47.50h1.0M406.7 47.50h1.0M593.0 47.50h1.8M398.2 47.50h1.8M638.1 47.50h1.8M560.8 48.50h1.8M599.6 48.50h1.0M636.2 48.50h1.0M597.1 48.50h1.0M545.0 48.50h1.0M593.2 49.50h1.8M536.0 49.50h1.0M646.3 49.50h1.8M574.7 52.50h1.8M613.7 52.50h1.0M400.2 52.50h1.0M632.9 52.50h1.8M556.1 52.50h1.0M621.5 52.50h1.0M550.9 53.50h1.0M476.0 53.50h1.8M558.9 54.50h1.0M612.2 55.50h1.0M532.6 55.50h1.0M644.2 56.50h1.8M614.7 56.50h1.8M656.8 57.50h1.0M584.5 57.50h1.0M533.0 57.50h1.0M662.2 57.50h1.0M581.4 57.50h1.0M651.7 57.50h1.0M470.4 57.50h1.0M487.8 58.50h1.0M645.6 59.50h1.8M558.0 60.50h1.0M561.3 60.50h1.0M614.5 60.50h1.0M572.7 60.50h1.0M443.8 60.50h1.0M656.5 60.50h1.0M597.7 60.50h1.0M627.0 60.50h1.0M423.7 60.50h1.0M647.3 60.50h1.0" stroke="#444" stroke-width="0.60" fill="none"/>
<path d="M408.30,149.00 L408.91,148.91 L409.69,148.78 L410.61,148.63 L411.64,148.46 L412.77,148.27 L413.96,148.08 L415.18,147.88 L416.40,147.69 L417.61,147.51 L418.77,147.35 L419.86,147.20 L420.84,147.08 L421.70,147.00 L423.02,146.92 L424.10,146.90 L425.03,146.94 L425.87,147.02 L426.72,147.11 L427.64,147.21 L428.70,147.30 L429.65,147.38 L430.68,147.49 L431.76,147.61 L432.86,147.74 L433.97,147.87 L435.07,147.98 L436.12,148.06 L437.10,148.10 L438.00,148.10 L439.36,147.96 L440.50,147.70 L441.54,147.37 L442.63,147.02 L443.90,146.70 L444.81,146.50 L445.79,146.26 L446.82,146.01 L447.88,145.77 L448.94,145.55 L449.99,145.37 L451.02,145.24 L452.00,145.20 L453.07,145.24 L454.10,145.37 L455.12,145.56 L456.12,145.80 L457.11,146.08 L458.10,146.39 L459.10,146.70 L460.11,147.06 L461.11,147.48 L462.11,147.93 L463.11,148.40 L464.10,148.85 L465.10,149.26 L466.10,149.60 L467.11,149.89 L468.13,150.16 L469.16,150.40 L470.18,150.60 L471.19,150.74 L472.16,150.81 L473.10,150.80 L474.32,150.60 L475.47,150.23 L476.58,149.75 L477.71,149.25 L478.90,148.80 L479.95,148.42 L481.03,147.98 L482.12,147.54 L483.24,147.16 L484.37,146.90 L485.50,146.80 L486.49,146.87 L487.50,147.06 L488.53,147.34 L489.56,147.69 L490.57,148.08 L491.55,148.49 L492.50,148.90 L493.75,149.55 L494.94,150.31 L496.10,151.11 L497.24,151.83 L498.40,152.40 L499.57,152.85 L500.73,153.23 L501.88,153.51 L503.04,153.61 L504.20,153.50 L505.36,153.11 L506.52,152.48 L507.67,151.70 L508.83,150.84 L510.00,150.00 L511.18,149.13 L512.36,148.19 L513.54,147.21 L514.72,146.27 L515.90,145.40 L517.06,144.62 L518.22,143.90 L519.38,143.21 L520.54,142.55 L521.70,141.90 L522.88,141.26 L524.06,140.63 L525.24,140.03 L526.42,139.45 L527.60,138.90 L528.75,138.42 L529.87,138.02 L531.00,137.62 L532.16,137.16 L533.40,136.60 L534.36,136.11 L535.38,135.57 L536.44,134.99 L537.50,134.38 L538.54,133.75 L539.52,133.12 L540.40,132.50 L541.71,131.60 L542.82,130.80 L543.87,129.72 L545.00,128.00 L545.99,125.94 L547.00,123.40 L548.03,120.60 L549.07,117.76 L550.10,115.10 L551.14,112.63 L552.18,110.19 L553.22,107.79 L554.26,105.43 L555.30,103.10 L556.32,100.77 L557.34,98.43 L558.36,96.15 L559.38,93.99 L560.40,92.00 L561.41,90.22 L562.40,88.59 L563.40,87.09 L564.46,85.68 L565.60,84.30 L566.64,83.18 L567.74,82.11 L568.89,81.09 L570.07,80.11 L571.24,79.18 L572.40,78.30 L573.57,77.46 L574.76,76.66 L575.96,75.91 L577.13,75.21 L578.25,74.57 L579.30,74.00 L580.46,73.37 L581.55,72.80 L582.57,72.33 L583.52,72.02 L584.40,71.90 L585.66,72.11 L586.72,72.79 L587.80,74.00 L588.90,75.69 L590.01,77.92 L591.30,80.90 L592.22,83.20 L593.22,85.89 L594.28,88.79 L595.35,91.75 L596.40,94.60 L597.46,97.41 L598.56,100.30 L599.64,103.14 L600.67,105.85 L601.60,108.30 L602.89,111.76 L603.99,114.73 L605.00,117.50 L606.24,121.62 L607.70,125.00 L608.58,126.05 L609.60,127.00 L610.71,127.74 L611.83,128.21 L612.90,128.30 L613.93,127.91 L614.95,127.10 L615.96,126.02 L616.98,124.87 L618.00,123.80 L619.02,122.76 L620.04,121.64 L621.05,120.52 L622.07,119.48 L623.10,118.60 L624.16,117.87 L625.24,117.22 L626.32,116.70 L627.35,116.31 L628.30,116.10 L629.67,116.13 L630.88,116.59 L632.10,117.40 L633.35,118.52 L634.61,120.00 L636.00,121.90 L636.94,123.33 L637.95,124.98 L639.00,126.74 L640.05,128.52 L641.10,130.20 L642.17,131.83 L643.27,133.48 L644.36,135.08 L645.39,136.57 L646.30,137.90 L647.63,139.80 L648.74,141.35 L649.50,142.40 L649.50,152.10 L648.74,151.44 L647.65,150.51 L646.36,149.40 L645.00,148.20 L644.04,147.32 L643.01,146.33 L641.93,145.29 L640.81,144.26 L639.69,143.27 L638.60,142.40 L637.52,141.62 L636.44,140.87 L635.35,140.18 L634.26,139.56 L633.18,139.03 L632.10,138.60 L631.03,138.27 L629.96,138.04 L628.89,137.89 L627.83,137.83 L626.77,137.83 L625.70,137.90 L624.63,138.07 L623.57,138.36 L622.50,138.72 L621.43,139.11 L620.37,139.49 L619.30,139.80 L618.22,140.09 L617.12,140.40 L616.02,140.69 L614.94,140.93 L613.90,141.08 L612.90,141.10 L611.74,140.95 L610.61,140.65 L609.54,140.23 L608.56,139.73 L607.70,139.20 L606.24,137.65 L605.00,135.70 L603.99,134.31 L602.89,132.74 L601.60,130.60 L600.67,128.85 L599.64,126.77 L598.56,124.55 L597.46,122.33 L596.40,120.30 L595.38,118.40 L594.36,116.53 L593.34,114.75 L592.32,113.12 L591.30,111.70 L590.29,110.50 L589.30,109.46 L588.30,108.60 L587.24,107.92 L586.10,107.40 L585.06,107.12 L583.96,106.99 L582.81,106.97 L581.63,107.05 L580.46,107.20 L579.30,107.40 L578.15,107.65 L577.00,107.98 L575.85,108.38 L574.70,108.85 L573.55,109.39 L572.40,110.00 L571.26,110.66 L570.13,111.39 L569.00,112.17 L567.87,113.05 L566.74,114.02 L565.60,115.10 L564.45,116.31 L563.30,117.64 L562.15,119.07 L561.00,120.58 L559.85,122.13 L558.70,123.70 L557.54,125.34 L556.37,127.09 L555.19,128.89 L554.04,130.67 L552.94,132.40 L551.90,134.00 L550.76,135.78 L549.70,137.47 L548.70,139.07 L547.71,140.58 L546.70,142.00 L545.69,143.37 L544.69,144.68 L543.69,145.88 L542.67,146.94 L541.60,147.80 L540.51,148.41 L539.40,148.80 L538.26,149.06 L537.03,149.26 L535.70,149.50 L534.78,149.67 L533.78,149.81 L532.73,149.95 L531.65,150.08 L530.57,150.21 L529.52,150.33 L528.52,150.46 L527.60,150.60 L526.28,150.83 L525.08,151.05 L523.95,151.28 L522.84,151.53 L521.70,151.80 L520.54,152.11 L519.38,152.44 L518.22,152.79 L517.06,153.15 L515.90,153.50 L514.72,153.86 L513.54,154.24 L512.36,154.62 L511.18,154.98 L510.00,155.30 L508.87,155.60 L507.79,155.88 L506.69,156.14 L505.51,156.35 L504.20,156.50 L503.30,156.57 L502.34,156.61 L501.35,156.64 L500.32,156.65 L499.26,156.64 L498.18,156.61 L497.09,156.57 L496.00,156.50 L495.03,156.41 L494.05,156.28 L493.07,156.12 L492.07,155.94 L491.06,155.77 L490.02,155.60 L488.95,155.46 L487.84,155.36 L486.70,155.30 L485.70,155.30 L484.62,155.34 L483.48,155.40 L482.31,155.49 L481.13,155.59 L479.95,155.70 L478.81,155.80 L477.72,155.89 L476.71,155.96 L475.79,156.00 L475.00,156.00 L473.52,155.84 L472.70,155.53 L471.95,155.18 L470.70,154.90 L469.89,154.81 L468.97,154.73 L467.97,154.66 L466.92,154.60 L465.81,154.54 L464.69,154.48 L463.57,154.42 L462.47,154.36 L461.40,154.30 L460.39,154.23 L459.41,154.14 L458.44,154.06 L457.48,153.97 L456.50,153.88 L455.48,153.81 L454.40,153.75 L453.25,153.71 L452.00,153.70 L451.15,153.71 L450.27,153.72 L449.37,153.75 L448.44,153.78 L447.48,153.82 L446.51,153.86 L445.51,153.91 L444.49,153.97 L443.45,154.02 L442.39,154.08 L441.31,154.14 L440.22,154.19 L439.12,154.25 L438.00,154.30 L437.05,154.34 L436.07,154.39 L435.05,154.44 L434.01,154.50 L432.95,154.55 L431.87,154.61 L430.78,154.67 L429.68,154.72 L428.59,154.78 L427.50,154.83 L426.43,154.88 L425.37,154.93 L424.33,154.98 L423.32,155.02 L422.34,155.05 L421.40,155.08 L420.50,155.10 L419.26,155.12 L418.02,155.12 L416.79,155.12 L415.59,155.10 L414.42,155.08 L413.31,155.05 L412.25,155.02 L411.27,154.99 L410.37,154.96 L409.57,154.93 L408.87,154.91 L408.30,154.90 Z" fill="rgb(161,210,159)" fill-opacity="0.43"/>
<line x1="528.80" y1="65.10" x2="528.80" y2="160.50" stroke="#6495ed" stroke-width="1.6" stroke-dasharray="5.6 5.7"/>
<path d="M408.30,151.70 C409.37,151.70 412.47,151.75 414.70,151.70 C416.93,151.65 419.37,151.43 421.70,151.40 C424.03,151.37 426.37,151.47 428.70,151.50 C431.03,151.53 433.57,151.62 435.70,151.60 C437.83,151.58 439.75,151.58 441.50,151.40 C443.25,151.22 444.45,150.77 446.20,150.50 C447.95,150.23 450.25,149.82 452.00,149.80 C453.75,149.78 455.13,150.08 456.70,150.40 C458.27,150.72 459.83,151.35 461.40,151.70 C462.97,152.05 464.55,152.30 466.10,152.50 C467.65,152.70 469.22,152.82 470.70,152.90 C472.18,152.98 473.32,153.13 475.00,153.00 C476.68,152.87 478.85,152.30 480.80,152.10 C482.75,151.90 484.75,151.65 486.70,151.80 C488.65,151.95 490.55,152.52 492.50,153.00 C494.45,153.48 496.45,154.32 498.40,154.70 C500.35,155.08 502.45,155.33 504.20,155.30 C505.95,155.27 507.35,155.08 508.90,154.50 C510.45,153.92 511.95,152.73 513.50,151.80 C515.05,150.87 516.63,149.82 518.20,148.90 C519.77,147.98 521.33,147.05 522.90,146.30 C524.47,145.55 525.85,144.95 527.60,144.40 C529.35,143.85 531.47,143.52 533.40,143.00 C535.33,142.48 537.45,142.17 539.20,141.30 C540.95,140.43 542.37,139.45 543.90,137.80 C545.43,136.15 547.07,133.75 548.40,131.40 C549.73,129.05 550.75,126.27 551.90,123.70 C553.05,121.13 554.17,118.43 555.30,116.00 C556.43,113.57 557.57,111.25 558.70,109.10 C559.83,106.95 560.95,104.90 562.10,103.10 C563.25,101.30 564.45,99.63 565.60,98.30 C566.75,96.97 567.87,96.02 569.00,95.10 C570.13,94.18 571.27,93.47 572.40,92.80 C573.53,92.13 574.65,91.58 575.80,91.10 C576.95,90.62 578.15,90.18 579.30,89.90 C580.45,89.62 581.57,89.25 582.70,89.40 C583.83,89.55 584.95,89.80 586.10,90.80 C587.25,91.80 588.45,93.35 589.60,95.40 C590.75,97.45 591.87,100.38 593.00,103.10 C594.13,105.82 595.27,109.05 596.40,111.70 C597.53,114.35 598.77,116.98 599.80,119.00 C600.83,121.02 601.72,122.15 602.60,123.80 C603.48,125.45 604.13,127.40 605.10,128.90 C606.07,130.40 607.32,131.88 608.40,132.80 C609.48,133.72 610.53,134.13 611.60,134.40 C612.67,134.67 613.73,134.67 614.80,134.40 C615.87,134.13 616.82,133.57 618.00,132.80 C619.18,132.03 620.62,130.70 621.90,129.80 C623.18,128.90 624.53,127.92 625.70,127.40 C626.87,126.88 627.83,126.67 628.90,126.70 C629.97,126.73 631.03,127.02 632.10,127.60 C633.17,128.18 634.22,129.12 635.30,130.20 C636.38,131.28 637.42,132.70 638.60,134.10 C639.78,135.50 641.12,137.00 642.40,138.60 C643.68,140.20 645.12,142.25 646.30,143.70 C647.48,145.15 648.97,146.70 649.50,147.30" fill="none" stroke="#008a00" stroke-width="1.6" stroke-linejoin="round"/>
<line x1="549.50" y1="67.90" x2="607.00" y2="67.90" stroke="#008a00" stroke-width="3.2" stroke-linecap="round"/>
<line x1="394.40" y1="160.70" x2="663.20" y2="160.70" stroke="#d6d6d6" stroke-width="1.3"/>
<line x1="394.40" y1="160.50" x2="394.40" y2="157.90" stroke="#555" stroke-width="1"/>
<text x="394.40" y="172.30" text-anchor="middle" font-size="9.6" fill="#262626" stroke="#262626" stroke-width="0.22">-0.5</text>
<line x1="421.28" y1="160.50" x2="421.28" y2="157.90" stroke="#555" stroke-width="1"/>
<text x="421.28" y="172.30" text-anchor="middle" font-size="9.6" fill="#262626" stroke="#262626" stroke-width="0.22">-0.4</text>
<line x1="448.16" y1="160.50" x2="448.16" y2="157.90" stroke="#555" stroke-width="1"/>
<text x="448.16" y="172.30" text-anchor="middle" font-size="9.6" fill="#262626" stroke="#262626" stroke-width="0.22">-0.3</text>
<line x1="475.04" y1="160.50" x2="475.04" y2="157.90" stroke="#555" stroke-width="1"/>
<text x="475.04" y="172.30" text-anchor="middle" font-size="9.6" fill="#262626" stroke="#262626" stroke-width="0.22">-0.2</text>
<line x1="501.92" y1="160.50" x2="501.92" y2="157.90" stroke="#555" stroke-width="1"/>
<text x="501.92" y="172.30" text-anchor="middle" font-size="9.6" fill="#262626" stroke="#262626" stroke-width="0.22">-0.1</text>
<line x1="528.80" y1="160.50" x2="528.80" y2="157.90" stroke="#555" stroke-width="1"/>
<text x="528.80" y="172.30" text-anchor="middle" font-size="9.6" fill="#262626" stroke="#262626" stroke-width="0.22">0</text>
<line x1="555.68" y1="160.50" x2="555.68" y2="157.90" stroke="#555" stroke-width="1"/>
<text x="555.68" y="172.30" text-anchor="middle" font-size="9.6" fill="#262626" stroke="#262626" stroke-width="0.22">0.1</text>
<line x1="582.56" y1="160.50" x2="582.56" y2="157.90" stroke="#555" stroke-width="1"/>
<text x="582.56" y="172.30" text-anchor="middle" font-size="9.6" fill="#262626" stroke="#262626" stroke-width="0.22">0.2</text>
<line x1="609.44" y1="160.50" x2="609.44" y2="157.90" stroke="#555" stroke-width="1"/>
<text x="609.44" y="172.30" text-anchor="middle" font-size="9.6" fill="#262626" stroke="#262626" stroke-width="0.22">0.3</text>
<line x1="636.32" y1="160.50" x2="636.32" y2="157.90" stroke="#555" stroke-width="1"/>
<text x="636.32" y="172.30" text-anchor="middle" font-size="9.6" fill="#262626" stroke="#262626" stroke-width="0.22">0.4</text>
<line x1="663.20" y1="160.50" x2="663.20" y2="157.90" stroke="#555" stroke-width="1"/>
<text x="663.20" y="172.30" text-anchor="middle" font-size="9.6" fill="#262626" stroke="#262626" stroke-width="0.22">0.5</text>
<text x="531.10" y="187.00" text-anchor="middle" font-size="11.2" fill="#262626" stroke="#262626" stroke-width="0.22">Time aligned on land. appearance (s)</text>
<line x1="394.40" y1="63.40" x2="663.20" y2="63.40" stroke="#888" stroke-width="1"/>
<line x1="394.50" y1="20.80" x2="394.50" y2="63.40" stroke="#666" stroke-width="1.2"/>
<line x1="394.40" y1="21.60" x2="397.80" y2="21.60" stroke="#333" stroke-width="0.9"/>
<text x="391.60" y="25.30" text-anchor="end" font-size="9.4" fill="#222" stroke="#222" stroke-width="0.22">0</text>
<line x1="394.40" y1="36.50" x2="397.80" y2="36.50" stroke="#333" stroke-width="0.9"/>
<text x="391.60" y="40.20" text-anchor="end" font-size="9.4" fill="#222" stroke="#222" stroke-width="0.22">50</text>
<line x1="394.40" y1="51.70" x2="397.80" y2="51.70" stroke="#333" stroke-width="0.9"/>
<text x="391.60" y="55.40" text-anchor="end" font-size="9.4" fill="#222" stroke="#222" stroke-width="0.22">100</text>
<text transform="translate(374.90,74.70) rotate(-90)" font-size="10.8" fill="#222" stroke="#222" stroke-width="0.22">Appearances</text>
<line x1="663.20" y1="63.40" x2="663.20" y2="160.50" stroke="#3d8f45" stroke-width="1.1"/>
<line x1="660.40" y1="79.90" x2="663.20" y2="79.90" stroke="#3d8f45" stroke-width="0.9"/>
<text x="665.40" y="83.30" font-size="9.4" fill="#1f8028" stroke="#1f8028" stroke-width="0.22">4</text>
<line x1="660.40" y1="99.20" x2="663.20" y2="99.20" stroke="#3d8f45" stroke-width="0.9"/>
<text x="665.40" y="102.60" font-size="9.4" fill="#1f8028" stroke="#1f8028" stroke-width="0.22">3</text>
<line x1="660.40" y1="119.30" x2="663.20" y2="119.30" stroke="#3d8f45" stroke-width="0.9"/>
<text x="665.40" y="122.70" font-size="9.4" fill="#1f8028" stroke="#1f8028" stroke-width="0.22">2</text>
<line x1="660.40" y1="138.50" x2="663.20" y2="138.50" stroke="#3d8f45" stroke-width="0.9"/>
<text x="665.40" y="141.90" font-size="9.4" fill="#1f8028" stroke="#1f8028" stroke-width="0.22">1</text>
<line x1="660.40" y1="158.30" x2="663.20" y2="158.30" stroke="#3d8f45" stroke-width="0.9"/>
<text x="665.40" y="161.70" font-size="9.4" fill="#1f8028" stroke="#1f8028" stroke-width="0.22">0</text>
<text transform="translate(676.30,67.70) rotate(90)" font-size="10.9" fill="#1f8028" stroke="#1f8028" stroke-width="0.22">Firing rate (spike/s)</text>
<text x="393.30" y="79.70" font-size="14.5" fill="#1f8028" stroke="#1f8028" stroke-width="0.22">HPC</text>
<text x="350.20" y="11.90" font-size="22" font-weight="bold" fill="#000">c</text>
<rect x="475.04" y="224.30" width="134.40" height="42.10" fill="#eaf0fd"/>
<rect x="475.04" y="268.00" width="134.40" height="95.50" fill="#eaf0fd"/>
<path d="M510.9 225.50h1.0M539.1 225.50h1.0M493.4 225.50h1.8M448.5 225.50h1.0M536.9 225.50h1.8M554.7 225.50h1.0M415.2 225.50h1.8M572.2 225.50h1.8M642.9 225.50h1.8M612.2 226.50h1.0M446.4 226.50h1.0M409.6 226.50h1.0M544.0 226.50h1.0M545.7 226.50h1.8M541.9 226.50h1.0M535.6 226.50h1.0M482.0 226.50h1.0M519.0 226.50h1.0M539.1 227.50h1.0M414.7 227.50h1.8M419.6 227.50h1.0M582.0 227.50h1.0M476.8 228.50h1.0M591.3 229.50h1.0M536.6 229.50h1.0M532.5 229.50h1.0M591.8 229.50h1.8M493.5 229.50h1.8M578.5 229.50h1.0M493.6 229.50h1.0M420.7 229.50h1.0M440.9 229.50h1.0M412.9 229.50h1.0M499.4 229.50h1.0M510.4 229.50h1.8M531.3 229.50h1.0M421.1 229.50h1.8M598.5 229.50h1.0M440.0 229.50h1.0M554.7 229.50h1.0M513.7 229.50h1.0M628.3 229.50h1.0M418.8 229.50h1.0M457.2 229.50h1.8M462.7 230.50h1.0M566.4 230.50h1.0M499.2 230.50h1.0M575.4 230.50h1.0M660.0 230.50h1.0M535.7 230.50h1.8M579.7 230.50h1.0M583.0 230.50h1.8M419.0 230.50h1.0M501.4 230.50h1.0M427.8 231.50h1.0M564.8 231.50h1.0M538.8 231.50h1.8M494.3 231.50h1.0M507.0 231.50h1.0M544.2 231.50h1.0M535.8 231.50h1.8M563.1 231.50h1.0M650.3 231.50h1.0M655.9 232.50h1.0M506.7 232.50h1.0M481.6 232.50h1.0M413.7 232.50h1.0M529.7 232.50h1.0M540.3 232.50h1.0M443.9 232.50h1.0M610.4 232.50h1.0M544.4 232.50h1.0M562.3 232.50h1.0M403.6 232.50h1.0M607.7 232.50h1.0M492.6 232.50h1.8M525.9 233.50h1.0M497.2 233.50h1.0M495.8 233.50h1.0M591.7 233.50h1.0M616.7 234.50h1.0M606.0 234.50h1.0M516.0 237.50h1.0M508.9 237.50h1.8M523.4 238.50h1.0M645.4 238.50h1.0M565.3 238.50h1.0M445.8 238.50h1.8M552.7 238.50h1.0M478.3 238.50h1.8M483.9 239.50h1.8M470.9 239.50h1.0M600.9 239.50h1.0M623.7 239.50h1.0M478.3 239.50h1.0M478.9 239.50h1.0M531.6 239.50h1.8M605.5 239.50h1.0M575.2 239.50h1.8M513.0 239.50h1.8M506.1 239.50h1.0M439.6 239.50h1.0M494.3 240.50h1.8M512.3 240.50h1.0M597.0 240.50h1.8M587.6 240.50h1.0M565.7 241.50h1.0M503.7 241.50h1.0M397.2 241.50h1.0M463.3 242.50h1.0M555.3 242.50h1.0M413.5 242.50h1.0M543.5 242.50h1.0M617.7 242.50h1.8M453.6 242.50h1.0M403.7 242.50h1.0M550.4 242.50h1.0M530.0 243.50h1.0M426.3 243.50h1.8M512.7 244.50h1.8M447.7 244.50h1.0M414.1 244.50h1.0M555.7 245.50h1.8M657.5 245.50h1.0M517.7 245.50h1.0M565.0 245.50h1.8M542.7 246.50h1.8M550.3 246.50h1.0M567.2 246.50h1.0M483.5 246.50h1.8M649.9 247.50h1.0M658.9 248.50h1.0M623.7 249.50h1.8M568.2 250.50h1.0M590.2 250.50h1.8M620.5 250.50h1.0M462.4 250.50h1.8M403.7 250.50h1.8M549.1 251.50h1.8M462.4 251.50h1.0M648.6 251.50h1.0M626.4 251.50h1.8M453.5 251.50h1.0M510.3 253.50h1.0M536.6 253.50h1.0M558.2 253.50h1.0M488.7 253.50h1.0M533.1 253.50h1.0M590.8 255.50h1.0M479.1 255.50h1.0M576.8 256.50h1.0M642.0 256.50h1.8M596.1 256.50h1.8M478.7 256.50h1.8M561.5 256.50h1.8M410.8 256.50h1.0M397.9 256.50h1.8M592.9 257.50h1.8M582.6 257.50h1.0M439.5 257.50h1.0M476.2 258.50h1.0M508.5 258.50h1.8M428.5 259.50h1.8M501.7 259.50h1.8M522.6 259.50h1.0M492.1 259.50h1.0M474.7 259.50h1.8M547.6 259.50h1.0M556.3 259.50h1.8M539.6 259.50h1.8M553.4 259.50h1.0M522.3 259.50h1.8M403.0 259.50h1.8M422.3 259.50h1.0M584.9 259.50h1.0M543.1 259.50h1.0M478.5 259.50h1.0M497.2 259.50h1.0M607.8 259.50h1.0M650.1 259.50h1.0M486.1 259.50h1.8M546.2 259.50h1.8M471.2 259.50h1.8M518.5 259.50h1.0M486.1 259.50h1.0M397.8 259.50h1.0M548.4 259.50h1.8M564.8 259.50h1.8M599.2 259.50h1.8M522.9 259.50h1.0M550.5 260.50h1.8M590.9 260.50h1.8M548.2 260.50h1.0M469.0 260.50h1.8M451.8 260.50h1.0M465.0 260.50h1.0M586.5 261.50h1.0M623.5 261.50h1.0M461.1 263.50h1.0M614.6 263.50h1.0M446.8 263.50h1.0M494.3 263.50h1.8M515.0 263.50h1.0M539.1 263.50h1.8M478.6 263.50h1.0M544.7 263.50h1.0M512.0 263.50h1.0M555.4 263.50h1.8M568.5 264.50h1.8" stroke="#444" stroke-width="0.60" fill="none"/>
<path d="M408.40,341.60 L409.14,341.54 L410.16,341.47 L411.37,341.39 L412.69,341.26 L414.02,341.07 L415.30,340.80 L416.37,340.51 L417.49,340.20 L418.62,339.84 L419.76,339.43 L420.89,338.95 L421.97,338.42 L423.00,337.80 L424.12,337.01 L425.18,336.14 L426.19,335.19 L427.19,334.13 L428.18,332.94 L429.20,331.60 L430.23,330.08 L431.27,328.40 L432.31,326.58 L433.34,324.68 L434.37,322.74 L435.40,320.80 L436.42,318.77 L437.44,316.61 L438.45,314.41 L439.46,312.26 L440.48,310.25 L441.50,308.50 L442.51,307.01 L443.50,305.70 L444.50,304.54 L445.52,303.50 L446.58,302.53 L447.70,301.60 L448.72,300.83 L449.79,300.12 L450.90,299.45 L452.02,298.85 L453.16,298.30 L454.29,297.82 L455.40,297.40 L456.51,297.07 L457.64,296.85 L458.78,296.70 L459.90,296.58 L461.01,296.48 L462.08,296.37 L463.10,296.20 L464.23,296.00 L465.30,295.84 L466.33,295.67 L467.33,295.44 L468.31,295.10 L469.30,294.60 L470.48,293.79 L471.64,292.80 L472.79,291.66 L473.91,290.38 L475.00,289.00 L476.04,287.38 L477.02,285.51 L477.99,283.58 L479.00,281.78 L480.10,280.30 L481.10,279.34 L482.17,278.55 L483.27,277.89 L484.39,277.33 L485.51,276.84 L486.60,276.40 L487.69,275.99 L488.79,275.65 L489.89,275.38 L490.97,275.19 L492.01,275.10 L493.00,275.10 L494.08,275.24 L495.07,275.51 L496.02,275.92 L497.01,276.45 L498.10,277.10 L499.09,277.78 L500.12,278.59 L501.19,279.49 L502.29,280.43 L503.43,281.35 L504.60,282.20 L505.65,282.90 L506.75,283.63 L507.88,284.35 L509.03,285.05 L510.16,285.69 L511.26,286.25 L512.30,286.70 L513.43,287.09 L514.48,287.37 L515.50,287.56 L516.52,287.66 L517.57,287.70 L518.70,287.70 L519.74,287.64 L520.84,287.51 L521.98,287.33 L523.12,287.12 L524.26,286.90 L525.36,286.69 L526.40,286.50 L527.56,286.28 L528.67,286.04 L529.76,285.79 L530.80,285.59 L531.82,285.44 L532.80,285.40 L533.90,285.44 L534.91,285.56 L535.89,285.78 L536.90,286.15 L538.00,286.70 L539.00,287.34 L540.06,288.14 L541.15,289.06 L542.25,290.02 L543.34,290.99 L544.40,291.90 L545.40,292.75 L546.37,293.58 L547.33,294.41 L548.30,295.26 L549.31,296.15 L550.40,297.10 L551.40,297.99 L552.44,298.94 L553.52,299.93 L554.62,300.92 L555.75,301.90 L556.87,302.84 L558.00,303.70 L558.99,304.39 L559.99,305.05 L561.01,305.67 L562.02,306.26 L563.05,306.84 L564.07,307.40 L565.09,307.95 L566.10,308.50 L567.10,309.03 L568.11,309.54 L569.11,310.02 L570.11,310.50 L571.10,310.98 L572.10,311.46 L573.10,311.97 L574.10,312.50 L575.10,313.07 L576.10,313.67 L577.10,314.30 L578.10,314.93 L579.10,315.56 L580.10,316.17 L581.10,316.76 L582.10,317.30 L583.10,317.82 L584.10,318.34 L585.10,318.84 L586.09,319.32 L587.09,319.76 L588.09,320.17 L589.10,320.51 L590.10,320.80 L591.12,321.01 L592.16,321.17 L593.20,321.26 L594.25,321.32 L595.28,321.34 L596.29,321.34 L597.27,321.32 L598.20,321.30 L599.37,321.22 L600.46,321.05 L601.51,320.85 L602.53,320.66 L603.55,320.53 L604.60,320.50 L605.67,320.55 L606.73,320.64 L607.80,320.78 L608.87,321.01 L609.93,321.34 L611.00,321.80 L612.07,322.40 L613.13,323.11 L614.19,323.92 L615.26,324.84 L616.33,325.83 L617.40,326.90 L618.48,328.08 L619.56,329.38 L620.65,330.77 L621.74,332.20 L622.82,333.62 L623.90,335.00 L624.97,336.38 L626.04,337.79 L627.11,339.21 L628.17,340.57 L629.23,341.85 L630.30,343.00 L631.37,344.01 L632.43,344.91 L633.50,345.72 L634.57,346.46 L635.63,347.15 L636.70,347.80 L637.76,348.40 L638.82,348.93 L639.88,349.41 L640.94,349.85 L642.01,350.27 L643.10,350.70 L644.29,351.14 L645.59,351.60 L646.90,352.03 L648.12,352.43 L649.16,352.76 L649.90,353.00 L649.90,360.70 L649.30,360.61 L648.53,360.51 L647.62,360.39 L646.60,360.26 L645.50,360.11 L644.35,359.94 L643.19,359.76 L642.03,359.55 L640.93,359.34 L639.90,359.10 L638.81,358.81 L637.71,358.49 L636.61,358.15 L635.52,357.79 L634.43,357.41 L633.37,357.01 L632.32,356.61 L631.29,356.21 L630.30,355.80 L629.22,355.34 L628.19,354.87 L627.19,354.39 L626.21,353.89 L625.24,353.39 L624.27,352.87 L623.29,352.34 L622.30,351.80 L621.28,351.22 L620.24,350.61 L619.20,349.97 L618.15,349.32 L617.12,348.68 L616.11,348.07 L615.13,347.50 L614.20,347.00 L613.07,346.41 L612.06,345.89 L611.09,345.43 L610.11,345.02 L609.03,344.64 L607.80,344.30 L606.87,344.10 L605.88,343.94 L604.84,343.80 L603.76,343.69 L602.65,343.58 L601.53,343.46 L600.40,343.34 L599.29,343.19 L598.20,343.00 L597.13,342.79 L596.05,342.56 L594.97,342.31 L593.89,342.05 L592.81,341.78 L591.73,341.50 L590.65,341.21 L589.57,340.91 L588.50,340.60 L587.43,340.28 L586.36,339.94 L585.29,339.59 L584.23,339.23 L583.16,338.87 L582.10,338.50 L581.03,338.13 L579.97,337.76 L578.90,337.40 L577.83,337.04 L576.77,336.69 L575.70,336.33 L574.64,335.98 L573.57,335.62 L572.51,335.27 L571.44,334.91 L570.37,334.56 L569.30,334.20 L568.22,333.85 L567.11,333.49 L566.00,333.14 L564.88,332.79 L563.77,332.44 L562.68,332.09 L561.62,331.73 L560.59,331.37 L559.60,331.00 L558.38,330.52 L557.20,330.02 L556.06,329.52 L554.97,329.02 L553.92,328.51 L552.93,328.00 L552.00,327.50 L550.88,326.80 L549.94,326.09 L549.07,325.38 L548.13,324.68 L547.00,324.00 L546.03,323.52 L544.96,323.03 L543.83,322.54 L542.66,322.07 L541.49,321.62 L540.36,321.19 L539.30,320.80 L538.15,320.39 L537.04,320.01 L535.97,319.66 L534.91,319.35 L533.86,319.06 L532.80,318.80 L531.76,318.58 L530.76,318.40 L529.76,318.26 L528.72,318.12 L527.62,317.97 L526.40,317.80 L525.51,317.68 L524.57,317.56 L523.59,317.44 L522.58,317.33 L521.54,317.20 L520.50,317.06 L519.45,316.90 L518.41,316.71 L517.40,316.50 L516.39,316.27 L515.38,316.02 L514.35,315.76 L513.33,315.48 L512.31,315.18 L511.30,314.86 L510.31,314.51 L509.34,314.12 L508.40,313.70 L507.22,313.07 L506.07,312.32 L504.94,311.51 L503.84,310.69 L502.77,309.90 L501.72,309.19 L500.70,308.60 L499.56,308.05 L498.47,307.58 L497.42,307.20 L496.39,306.91 L495.35,306.71 L494.30,306.60 L493.23,306.60 L492.17,306.72 L491.11,306.92 L490.04,307.20 L488.97,307.54 L487.90,307.90 L486.82,308.29 L485.72,308.73 L484.62,309.23 L483.53,309.78 L482.45,310.40 L481.40,311.10 L480.16,312.11 L478.94,313.28 L477.74,314.52 L476.59,315.73 L475.50,316.80 L474.28,317.96 L473.17,319.01 L472.05,319.96 L470.80,320.80 L469.87,321.30 L468.90,321.74 L467.89,322.13 L466.83,322.49 L465.74,322.81 L464.60,323.10 L463.58,323.31 L462.51,323.48 L461.40,323.61 L460.28,323.73 L459.14,323.86 L458.01,324.01 L456.90,324.20 L455.79,324.42 L454.65,324.65 L453.52,324.89 L452.39,325.16 L451.28,325.46 L450.22,325.81 L449.20,326.20 L448.09,326.71 L447.05,327.28 L446.06,327.89 L445.08,328.57 L444.10,329.30 L443.10,330.10 L442.07,330.98 L441.04,331.94 L440.01,332.96 L438.97,334.02 L437.93,335.11 L436.90,336.20 L435.87,337.33 L434.83,338.50 L433.79,339.70 L432.76,340.90 L431.73,342.07 L430.70,343.20 L429.70,344.30 L428.72,345.41 L427.74,346.49 L426.75,347.52 L425.71,348.47 L424.60,349.30 L423.59,349.92 L422.54,350.46 L421.45,350.94 L420.34,351.37 L419.20,351.75 L418.06,352.09 L416.90,352.40 L415.82,352.64 L414.63,352.84 L413.40,353.01 L412.17,353.14 L411.00,353.26 L409.95,353.35 L409.06,353.43 L408.40,353.50 Z" fill="rgb(161,210,159)" fill-opacity="0.43"/>
<line x1="528.80" y1="268.10" x2="528.80" y2="363.50" stroke="#6495ed" stroke-width="1.6" stroke-dasharray="5.6 5.7"/>
<path d="M408.40,347.80 C409.30,347.75 412.13,347.77 413.80,347.50 C415.47,347.23 416.87,346.80 418.40,346.20 C419.93,345.60 421.45,344.92 423.00,343.90 C424.55,342.88 426.15,341.63 427.70,340.10 C429.25,338.57 430.77,336.63 432.30,334.70 C433.83,332.77 435.37,330.55 436.90,328.50 C438.43,326.45 439.97,324.40 441.50,322.40 C443.03,320.40 444.55,318.18 446.10,316.50 C447.65,314.82 449.25,313.30 450.80,312.30 C452.35,311.30 453.87,310.88 455.40,310.50 C456.93,310.12 458.47,310.20 460.00,310.00 C461.53,309.80 463.32,309.55 464.60,309.30 C465.88,309.05 466.42,309.20 467.70,308.50 C468.98,307.80 471.00,306.18 472.30,305.10 C473.60,304.02 474.40,303.25 475.50,302.00 C476.60,300.75 477.70,298.97 478.90,297.60 C480.10,296.23 481.42,294.87 482.70,293.80 C483.98,292.73 485.32,291.80 486.60,291.20 C487.88,290.60 489.12,290.35 490.40,290.20 C491.68,290.05 493.02,290.02 494.30,290.30 C495.58,290.58 496.82,291.22 498.10,291.90 C499.38,292.58 500.72,293.52 502.00,294.40 C503.28,295.28 504.52,296.30 505.80,297.20 C507.08,298.10 508.40,299.08 509.70,299.80 C511.00,300.52 512.32,301.07 513.60,301.50 C514.88,301.93 516.12,302.30 517.40,302.40 C518.68,302.50 520.02,302.22 521.30,302.10 C522.58,301.98 523.82,301.80 525.10,301.70 C526.38,301.60 527.72,301.47 529.00,301.50 C530.28,301.53 531.52,301.62 532.80,301.90 C534.08,302.18 535.40,302.63 536.70,303.20 C538.00,303.77 539.32,304.52 540.60,305.30 C541.88,306.08 543.12,307.03 544.40,307.90 C545.68,308.77 547.02,309.57 548.30,310.50 C549.58,311.43 550.75,312.58 552.10,313.50 C553.45,314.42 554.62,315.10 556.40,316.00 C558.18,316.90 560.65,317.93 562.80,318.90 C564.95,319.87 567.15,320.87 569.30,321.80 C571.45,322.73 573.57,323.52 575.70,324.50 C577.83,325.48 579.97,326.68 582.10,327.70 C584.23,328.72 586.62,329.85 588.50,330.60 C590.38,331.35 591.78,331.93 593.40,332.20 C595.02,332.47 596.60,332.22 598.20,332.20 C599.80,332.18 601.40,332.03 603.00,332.10 C604.60,332.17 606.20,332.18 607.80,332.60 C609.40,333.02 611.00,333.67 612.60,334.60 C614.20,335.53 615.78,336.93 617.40,338.20 C619.02,339.47 620.68,340.87 622.30,342.20 C623.92,343.53 625.50,344.95 627.10,346.20 C628.70,347.45 630.30,348.63 631.90,349.70 C633.50,350.77 635.10,351.77 636.70,352.60 C638.30,353.43 639.88,354.10 641.50,354.70 C643.12,355.30 645.00,355.88 646.40,356.20 C647.80,356.52 649.32,356.53 649.90,356.60" fill="none" stroke="#008a00" stroke-width="1.6" stroke-linejoin="round"/>
<line x1="468.40" y1="270.90" x2="544.30" y2="270.90" stroke="#008a00" stroke-width="3.2" stroke-linecap="round"/>
<line x1="394.40" y1="363.70" x2="663.20" y2="363.70" stroke="#d6d6d6" stroke-width="1.3"/>
<line x1="394.40" y1="363.50" x2="394.40" y2="360.90" stroke="#555" stroke-width="1"/>
<text x="394.40" y="375.30" text-anchor="middle" font-size="9.6" fill="#262626" stroke="#262626" stroke-width="0.22">-0.5</text>
<line x1="421.28" y1="363.50" x2="421.28" y2="360.90" stroke="#555" stroke-width="1"/>
<text x="421.28" y="375.30" text-anchor="middle" font-size="9.6" fill="#262626" stroke="#262626" stroke-width="0.22">-0.4</text>
<line x1="448.16" y1="363.50" x2="448.16" y2="360.90" stroke="#555" stroke-width="1"/>
<text x="448.16" y="375.30" text-anchor="middle" font-size="9.6" fill="#262626" stroke="#262626" stroke-width="0.22">-0.3</text>
<line x1="475.04" y1="363.50" x2="475.04" y2="360.90" stroke="#555" stroke-width="1"/>
<text x="475.04" y="375.30" text-anchor="middle" font-size="9.6" fill="#262626" stroke="#262626" stroke-width="0.22">-0.2</text>
<line x1="501.92" y1="363.50" x2="501.92" y2="360.90" stroke="#555" stroke-width="1"/>
<text x="501.92" y="375.30" text-anchor="middle" font-size="9.6" fill="#262626" stroke="#262626" stroke-width="0.22">-0.1</text>
<line x1="528.80" y1="363.50" x2="528.80" y2="360.90" stroke="#555" stroke-width="1"/>
<text x="528.80" y="375.30" text-anchor="middle" font-size="9.6" fill="#262626" stroke="#262626" stroke-width="0.22">0</text>
<line x1="555.68" y1="363.50" x2="555.68" y2="360.90" stroke="#555" stroke-width="1"/>
<text x="555.68" y="375.30" text-anchor="middle" font-size="9.6" fill="#262626" stroke="#262626" stroke-width="0.22">0.1</text>
<line x1="582.56" y1="363.50" x2="582.56" y2="360.90" stroke="#555" stroke-width="1"/>
<text x="582.56" y="375.30" text-anchor="middle" font-size="9.6" fill="#262626" stroke="#262626" stroke-width="0.22">0.2</text>
<line x1="609.44" y1="363.50" x2="609.44" y2="360.90" stroke="#555" stroke-width="1"/>
<text x="609.44" y="375.30" text-anchor="middle" font-size="9.6" fill="#262626" stroke="#262626" stroke-width="0.22">0.3</text>
<line x1="636.32" y1="363.50" x2="636.32" y2="360.90" stroke="#555" stroke-width="1"/>
<text x="636.32" y="375.30" text-anchor="middle" font-size="9.6" fill="#262626" stroke="#262626" stroke-width="0.22">0.4</text>
<line x1="663.20" y1="363.50" x2="663.20" y2="360.90" stroke="#555" stroke-width="1"/>
<text x="663.20" y="375.30" text-anchor="middle" font-size="9.6" fill="#262626" stroke="#262626" stroke-width="0.22">0.5</text>
<text x="531.10" y="390.00" text-anchor="middle" font-size="11.2" fill="#262626" stroke="#262626" stroke-width="0.22">Time aligned on land. appearance (s)</text>
<line x1="394.40" y1="266.40" x2="663.20" y2="266.40" stroke="#888" stroke-width="1"/>
<line x1="394.50" y1="223.80" x2="394.50" y2="266.40" stroke="#666" stroke-width="1.2"/>
<line x1="394.40" y1="224.90" x2="397.80" y2="224.90" stroke="#333" stroke-width="0.9"/>
<text x="391.60" y="228.60" text-anchor="end" font-size="9.4" fill="#222" stroke="#222" stroke-width="0.22">0</text>
<line x1="394.40" y1="244.70" x2="397.80" y2="244.70" stroke="#333" stroke-width="0.9"/>
<text x="391.60" y="248.40" text-anchor="end" font-size="9.4" fill="#222" stroke="#222" stroke-width="0.22">50</text>
<line x1="394.40" y1="263.40" x2="397.80" y2="263.40" stroke="#333" stroke-width="0.9"/>
<text x="391.60" y="267.10" text-anchor="end" font-size="9.4" fill="#222" stroke="#222" stroke-width="0.22">100</text>
<text transform="translate(374.90,281.70) rotate(-90)" font-size="10.8" fill="#222" stroke="#222" stroke-width="0.22">Appearances</text>
<line x1="663.20" y1="266.40" x2="663.20" y2="363.50" stroke="#3d8f45" stroke-width="1.1"/>
<line x1="660.40" y1="279.90" x2="663.20" y2="279.90" stroke="#3d8f45" stroke-width="0.9"/>
<text x="665.40" y="283.30" font-size="9.4" fill="#1f8028" stroke="#1f8028" stroke-width="0.22">5</text>
<line x1="660.40" y1="296.60" x2="663.20" y2="296.60" stroke="#3d8f45" stroke-width="0.9"/>
<text x="665.40" y="300.00" font-size="9.4" fill="#1f8028" stroke="#1f8028" stroke-width="0.22">4</text>
<line x1="660.40" y1="313.30" x2="663.20" y2="313.30" stroke="#3d8f45" stroke-width="0.9"/>
<text x="665.40" y="316.70" font-size="9.4" fill="#1f8028" stroke="#1f8028" stroke-width="0.22">3</text>
<line x1="660.40" y1="330.50" x2="663.20" y2="330.50" stroke="#3d8f45" stroke-width="0.9"/>
<text x="665.40" y="333.90" font-size="9.4" fill="#1f8028" stroke="#1f8028" stroke-width="0.22">2</text>
<line x1="660.40" y1="347.50" x2="663.20" y2="347.50" stroke="#3d8f45" stroke-width="0.9"/>
<text x="665.40" y="350.90" font-size="9.4" fill="#1f8028" stroke="#1f8028" stroke-width="0.22">1</text>
<text transform="translate(676.30,270.10) rotate(90)" font-size="10.9" fill="#1f8028" stroke="#1f8028" stroke-width="0.22">Firing rate (spike/s)</text>
<text x="393.30" y="282.70" font-size="14.5" fill="#1f8028" stroke="#1f8028" stroke-width="0.22">HPC</text>
<text x="350.10" y="211.60" font-size="22" font-weight="bold" fill="#000">d</text>
<rect x="407.5" y="419.5" width="256" height="46.5" fill="#fff" stroke="#444" stroke-width="1"/>
<line x1="420" y1="430.4" x2="461.5" y2="430.4" stroke="#6495ed" stroke-width="1.6" stroke-dasharray="6 5.7"/>
<rect x="420.5" y="441.5" width="42" height="18" fill="#eaf0fd" stroke="#c8d8f8" stroke-width="1"/>
<text x="477" y="433" font-size="11.15" fill="#222" stroke="#222" stroke-width="0.22">landmark appearance</text>
<text x="477" y="453.8" font-size="11.15" fill="#222" stroke="#222" stroke-width="0.22">analysis window (–200 to +300 ms)</text>

</svg>
</body></html>
